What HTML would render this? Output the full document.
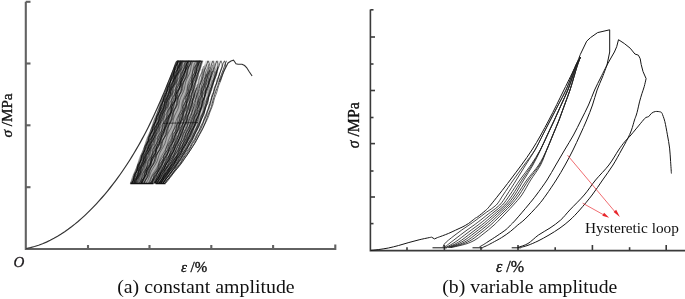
<!DOCTYPE html>
<html><head><meta charset="utf-8"><style>
html,body{margin:0;padding:0;background:#fff;}
body{width:685px;height:299px;overflow:hidden;position:relative;}
svg{position:absolute;left:0;top:0;will-change:transform;}
.t{font-family:"Liberation Serif",serif;fill:#111;}
.lb{stroke:#111;stroke-width:0.35px;}
</style></head><body>
<svg width="685" height="299" viewBox="0 0 685 299">
<path d="M25.8,1.8 V249 H335.3 V244.5" stroke="#626262" stroke-width="2.1" fill="none"/>
<path d="M25.8,1.8 H30.5" stroke="#626262" stroke-width="2.1" fill="none"/>
<path d="M25.8,63.5 H30.5" stroke="#626262" stroke-width="2.1" fill="none"/>
<path d="M25.8,125.3 H30.5" stroke="#626262" stroke-width="2.1" fill="none"/>
<path d="M25.8,187.2 H30.5" stroke="#626262" stroke-width="2.1" fill="none"/>
<path d="M88,249 V245" stroke="#626262" stroke-width="2.1" fill="none"/>
<path d="M149.5,249 V245" stroke="#626262" stroke-width="2.1" fill="none"/>
<path d="M211.3,249 V245" stroke="#626262" stroke-width="2.1" fill="none"/>
<path d="M273.1,249 V245" stroke="#626262" stroke-width="2.1" fill="none"/>
<path d="M26.18,248.52 L30.39,247.63 L34.52,246.52 L38.57,245.22 L42.53,243.74 L46.40,242.09 L50.21,240.28 L53.93,238.33 L57.58,236.25 L61.17,234.04 L64.68,231.72 L68.13,229.29 L71.51,226.77 L74.82,224.15 L78.08,221.45 L81.28,218.67 L84.41,215.83 L87.49,212.91 L90.52,209.94 L93.48,206.91 L96.40,203.83 L99.25,200.70 L102.06,197.52 L104.82,194.30 L107.52,191.04 L110.17,187.75 L112.78,184.42 L115.33,181.05 L117.84,177.65 L120.30,174.23 L122.71,170.77 L125.08,167.28 L127.40,163.76 L129.68,160.22 L131.91,156.65 L134.10,153.05 L136.24,149.42 L138.35,145.78 L140.41,142.10 L142.44,138.40 L144.42,134.68 L146.37,130.93 L148.28,127.16 L150.16,123.37 L152.00,119.55 L153.81,115.72 L155.59,111.87 L157.33,108.00 L159.06,104.11 L160.75,100.21 L162.42,96.31 L164.07,92.39 L165.70,88.47 L167.32,84.54 L168.92,80.62 L170.51,76.71 L172.09,72.80 L173.67,68.92 L175.24,65.05 L176.82,61.21" stroke="#333" stroke-width="1.2" fill="none"/>
<path d="M130.30,183.30 L132.61,177.18 L134.92,171.05 L137.23,164.93 L139.54,158.80 L141.85,152.68 L144.16,146.55 L146.47,140.43 L148.78,134.30 L151.09,128.18 L153.40,122.05 L155.71,115.92 L158.02,109.80 L160.33,103.67 L162.64,97.55 L164.95,91.42 L167.26,85.30 L169.57,79.17 L171.88,73.05 L174.19,66.92 L176.50,60.80 L203.50,60.80 L201.43,66.92 L199.59,73.05 L197.76,79.17 L195.92,85.30 L194.08,91.42 L192.37,97.55 L190.68,103.67 L188.98,109.80 L186.94,115.92 L184.89,122.05 L182.55,128.18 L180.13,134.30 L177.50,140.43 L174.71,146.55 L171.77,152.68 L168.59,158.80 L165.33,164.93 L161.78,171.05 L158.24,177.18 L154.66,183.30Z" fill="#777" fill-opacity="0.6"/>
<path d="M155.37,183.30 L159.05,177.18 L162.70,171.05 L166.36,164.93 L169.71,158.80 L172.99,152.68 L176.01,146.55 L178.88,140.43 L181.58,134.30 L184.06,128.18 L186.46,122.05 L188.56,115.92 L190.65,109.80 L192.38,103.67 L194.12,97.55 L195.87,91.42 L197.74,85.30 L199.62,79.17 L201.50,73.05 L203.38,66.92 L205.50,60.80 L220.70,60.80 L218.35,66.92 L216.33,73.05 L214.32,79.17 L212.30,85.30 L210.29,91.42 L208.45,97.55 L206.64,103.67 L204.83,109.80 L202.52,115.92 L200.19,122.05 L197.45,128.18 L194.59,134.30 L191.41,140.43 L188.02,146.55 L184.39,152.68 L180.42,158.80 L176.34,164.93 L171.84,171.05 L167.33,177.18 L162.79,183.30Z" fill="#999" fill-opacity="0.35"/>
<path d="M138.18,183.30 L139.99,180.24 L140.45,177.18 L141.62,174.11 L143.79,171.05 L145.09,167.99 L145.53,164.93 L146.92,161.86 L149.02,158.80 L150.04,155.74 L150.48,152.68 L152.09,149.61 L154.06,146.55 L154.80,143.49 L155.32,140.43 L157.10,137.36 L158.89,134.30 L159.40,131.24 L160.05,128.18 L161.95,125.11 L163.51,122.05 L163.85,118.99 L164.68,115.92 L166.64,112.86 L167.94,109.80 L168.17,106.74 L169.20,103.67 L171.15,100.61 L172.16,97.55 L172.39,94.49 L173.68,91.42 L175.61,88.36 L176.39,85.30 L176.71,82.24 L178.24,79.17 L180.06,76.11 L180.63,73.05 L181.09,69.99 L182.82,66.92 L184.47,63.86 L185.04,60.80" stroke="#000" stroke-opacity="0.58" stroke-width="0.6" fill="none"/>
<path d="M139.20,183.30 L141.02,180.24 L141.79,177.18 L142.68,174.11 L144.52,171.05 L146.33,167.99 L147.18,164.93 L147.94,161.86 L149.63,158.80 L151.48,155.74 L152.40,152.68 L153.05,149.61 L154.56,146.55 L156.43,143.49 L157.41,140.43 L157.97,137.36 L159.31,134.30 L161.17,131.24 L162.24,128.18 L162.72,125.11 L163.89,122.05 L165.71,118.99 L166.87,115.92 L167.30,112.86 L168.31,109.80 L170.06,106.74 L171.31,103.67 L171.73,100.61 L172.55,97.55 L174.26,94.49 L175.65,91.42 L176.14,88.36 L176.86,85.30 L178.51,82.24 L180.04,79.17 L180.60,76.11 L181.21,73.05 L182.78,69.99 L184.40,66.92 L185.07,63.86 L186.15,60.80" stroke="#000" stroke-opacity="0.53" stroke-width="0.6" fill="none"/>
<path d="M132.00,183.30 L133.20,180.24 L134.78,177.18 L135.85,174.11 L136.54,171.05 L137.43,167.99 L138.84,164.93 L140.51,161.86 L141.84,158.80 L142.65,155.74 L143.36,152.68 L144.52,149.61 L146.13,146.55 L147.67,143.49 L148.70,140.43 L149.37,137.36 L150.27,134.30 L151.70,131.24 L153.34,128.18 L154.63,125.11 L155.40,122.05 L156.11,118.99 L157.29,115.92 L158.90,112.86 L160.41,109.80 L161.39,106.74 L162.04,103.67 L162.95,100.61 L164.40,97.55 L166.02,94.49 L167.27,91.42 L168.01,88.36 L168.74,85.30 L169.94,82.24 L171.56,79.17 L173.04,76.11 L173.99,73.05 L174.64,69.99 L175.59,66.92 L177.06,63.86 L178.34,60.80" stroke="#000" stroke-opacity="0.55" stroke-width="0.6" fill="none"/>
<path d="M135.73,183.30 L136.27,180.24 L138.45,177.18 L140.23,174.11 L140.64,171.05 L141.19,167.99 L143.14,164.93 L145.19,161.86 L145.87,158.80 L146.16,155.74 L147.75,152.68 L149.96,149.61 L150.97,146.55 L151.13,143.49 L152.31,140.43 L154.52,137.36 L155.90,134.30 L156.08,131.24 L156.85,128.18 L158.93,125.11 L160.65,122.05 L160.98,118.99 L161.40,115.92 L163.21,112.86 L165.19,109.80 L165.79,106.74 L165.96,103.67 L167.41,100.61 L169.53,97.55 L170.50,94.49 L170.58,91.42 L171.65,88.36 L173.80,85.30 L175.17,82.24 L175.32,79.17 L176.01,76.11 L178.02,73.05 L179.75,69.99 L180.09,66.92 L180.47,63.86 L182.39,60.80" stroke="#000" stroke-opacity="0.81" stroke-width="0.6" fill="none"/>
<path d="M154.08,183.30 L155.94,180.24 L156.98,177.18 L158.75,174.11 L161.23,171.05 L163.51,167.99 L164.93,164.93 L165.78,161.86 L167.05,158.80 L169.18,155.74 L171.47,152.68 L172.99,149.61 L173.64,146.55 L174.44,143.49 L176.10,140.43 L178.26,137.36 L179.81,134.30 L180.46,131.24 L180.91,128.18 L182.07,125.11 L183.90,122.05 L185.51,118.99 L186.26,115.92 L186.48,112.86 L187.14,109.80 L188.50,106.74 L190.09,103.67 L191.00,100.61 L191.14,97.55 L191.38,94.49 L192.47,91.42 L194.17,88.36 L195.45,85.30 L195.87,82.24 L196.02,79.17 L196.83,76.11 L198.43,73.05 L199.97,69.99 L200.68,66.92 L200.81,63.86 L202.25,60.80" stroke="#000" stroke-opacity="0.52" stroke-width="0.6" fill="none"/>
<path d="M133.17,183.30 L134.57,180.24 L134.88,177.18 L136.72,174.11 L138.64,171.05 L139.01,167.99 L139.69,164.93 L141.83,161.86 L143.29,158.80 L143.45,155.74 L144.62,152.68 L146.83,149.61 L147.75,146.55 L147.96,143.49 L149.62,140.43 L151.63,137.36 L152.09,134.30 L152.59,131.24 L154.62,128.18 L156.22,125.11 L156.39,122.05 L157.35,118.99 L159.53,115.92 L160.61,112.86 L160.75,109.80 L162.21,106.74 L164.28,103.67 L164.86,100.61 L165.20,97.55 L167.11,94.49 L168.84,91.42 L169.07,88.36 L169.85,85.30 L172.00,82.24 L173.25,79.17 L173.35,76.11 L174.65,73.05 L176.79,69.99 L177.52,66.92 L177.77,63.86 L179.61,60.80" stroke="#000" stroke-opacity="0.65" stroke-width="0.6" fill="none"/>
<path d="M145.86,183.30 L147.89,180.24 L149.17,177.18 L150.13,174.11 L151.33,171.05 L153.09,167.99 L155.12,164.93 L156.82,161.86 L157.92,158.80 L158.77,155.74 L159.94,152.68 L161.64,149.61 L163.46,146.55 L164.93,143.49 L165.85,140.43 L166.61,137.36 L167.66,134.30 L169.23,131.24 L170.93,128.18 L172.22,125.11 L172.94,122.05 L173.51,118.99 L174.52,115.92 L176.04,112.86 L177.60,109.80 L178.61,106.74 L179.13,103.67 L179.64,100.61 L180.62,97.55 L182.08,94.49 L183.52,91.42 L184.49,88.36 L185.01,85.30 L185.60,82.24 L186.71,79.17 L188.24,76.11 L189.66,73.05 L190.55,69.99 L191.04,66.92 L191.69,63.86 L193.35,60.80" stroke="#000" stroke-opacity="0.69" stroke-width="0.6" fill="none"/>
<path d="M135.31,183.30 L136.32,180.24 L137.43,177.18 L139.35,174.11 L140.53,171.05 L141.10,167.99 L142.57,164.93 L144.40,161.86 L145.22,158.80 L145.93,155.74 L147.66,152.68 L149.24,149.61 L149.81,146.55 L150.79,143.49 L152.65,140.43 L153.87,137.36 L154.35,134.30 L155.67,131.24 L157.48,128.18 L158.32,125.11 L158.91,122.05 L160.52,118.99 L162.10,115.92 L162.66,112.86 L163.51,109.80 L165.29,106.74 L166.52,103.67 L166.95,100.61 L168.13,97.55 L169.92,94.49 L170.79,91.42 L171.32,88.36 L172.85,85.30 L174.47,82.24 L175.06,79.17 L175.83,76.11 L177.59,73.05 L178.91,69.99 L179.36,66.92 L180.47,63.86 L181.93,60.80" stroke="#000" stroke-opacity="0.84" stroke-width="0.6" fill="none"/>
<path d="M141.33,183.30 L142.33,180.24 L144.53,177.18 L146.09,174.11 L146.75,171.05 L147.55,167.99 L149.32,164.93 L151.45,161.86 L152.80,158.80 L153.34,155.74 L154.19,152.68 L156.00,149.61 L157.99,146.55 L159.12,143.49 L159.56,140.43 L160.46,137.36 L162.27,134.30 L164.12,131.24 L165.04,128.18 L165.40,125.11 L166.35,122.05 L168.16,118.99 L169.86,115.92 L170.58,112.86 L170.89,109.80 L171.88,106.74 L173.69,103.67 L175.21,100.61 L175.75,97.55 L176.04,94.49 L177.19,91.42 L179.06,88.36 L180.48,85.30 L180.93,82.24 L181.32,79.17 L182.63,76.11 L184.51,73.05 L185.79,69.99 L186.15,66.92 L186.63,63.86 L188.46,60.80" stroke="#000" stroke-opacity="0.65" stroke-width="0.6" fill="none"/>
<path d="M144.29,183.30 L145.49,180.24 L147.81,177.18 L149.18,174.11 L149.74,171.05 L150.88,167.99 L153.08,164.93 L155.14,161.86 L156.04,158.80 L156.54,155.74 L157.99,152.68 L160.23,149.61 L161.82,146.55 L162.33,143.49 L162.94,140.43 L164.67,137.36 L166.72,134.30 L167.83,131.24 L168.11,128.18 L168.96,125.11 L170.85,122.05 L172.60,118.99 L173.24,115.92 L173.47,112.86 L174.61,109.80 L176.51,106.74 L177.85,103.67 L178.11,100.61 L178.44,97.55 L179.89,94.49 L181.77,91.42 L182.74,88.36 L182.89,85.30 L183.59,82.24 L185.36,79.17 L187.07,76.11 L187.67,73.05 L187.84,69.99 L188.93,66.92 L190.85,63.86 L191.65,60.80" stroke="#000" stroke-opacity="0.76" stroke-width="0.6" fill="none"/>
<path d="M154.18,183.30 L155.78,180.24 L158.03,177.18 L159.84,174.11 L161.15,171.05 L162.49,167.99 L164.37,164.93 L166.51,161.86 L168.32,158.80 L169.57,155.74 L170.65,152.68 L172.12,149.61 L173.94,146.55 L175.70,143.49 L176.92,140.43 L177.79,137.36 L178.79,134.30 L180.30,131.24 L181.98,128.18 L183.21,125.11 L183.87,122.05 L184.51,118.99 L185.68,115.92 L187.20,112.86 L188.42,109.80 L188.92,106.74 L189.29,103.67 L190.11,100.61 L191.41,97.55 L192.62,94.49 L193.30,91.42 L193.70,88.36 L194.41,85.30 L195.67,82.24 L197.05,79.17 L197.96,76.11 L198.40,73.05 L198.96,69.99 L200.06,66.92 L201.47,63.86 L202.36,60.80" stroke="#000" stroke-opacity="0.56" stroke-width="0.6" fill="none"/>
<path d="M142.21,183.30 L143.73,180.24 L145.58,177.18 L146.15,174.11 L147.30,171.05 L149.58,167.99 L151.03,164.93 L151.49,161.86 L152.97,158.80 L155.16,155.74 L156.12,152.68 L156.66,149.61 L158.45,146.55 L160.34,143.49 L160.90,140.43 L161.66,137.36 L163.65,134.30 L165.13,131.24 L165.43,128.18 L166.51,125.11 L168.55,122.05 L169.54,118.99 L169.77,115.92 L171.19,112.86 L173.08,109.80 L173.61,106.74 L173.97,103.67 L175.66,100.61 L177.22,97.55 L177.47,94.49 L178.16,91.42 L180.09,88.36 L181.29,85.30 L181.45,82.24 L182.58,79.17 L184.52,76.11 L185.31,73.05 L185.55,69.99 L187.08,66.92 L188.85,63.86 L189.40,60.80" stroke="#000" stroke-opacity="0.52" stroke-width="0.6" fill="none"/>
<path d="M151.63,183.30 L152.84,180.24 L155.44,177.18 L156.99,174.11 L157.76,171.05 L159.76,167.99 L162.23,164.93 L163.27,161.86 L164.10,158.80 L166.32,155.74 L168.33,152.68 L168.98,149.61 L170.03,146.55 L172.28,143.49 L173.69,140.43 L174.11,137.36 L175.49,134.30 L177.56,131.24 L178.37,128.18 L178.77,125.11 L180.47,122.05 L182.15,118.99 L182.44,115.92 L183.02,112.86 L184.90,109.80 L186.03,106.74 L186.00,103.67 L186.87,100.61 L188.67,97.55 L189.35,94.49 L189.38,91.42 L190.75,88.36 L192.46,85.30 L192.78,82.24 L193.12,79.17 L194.83,76.11 L196.19,73.05 L196.26,69.99 L197.01,66.92 L198.88,63.86 L199.60,60.80" stroke="#000" stroke-opacity="0.66" stroke-width="0.6" fill="none"/>
<path d="M141.41,183.30 L142.02,180.24 L144.39,177.18 L146.22,174.11 L146.41,171.05 L147.87,167.99 L150.39,164.93 L151.14,161.86 L151.57,158.80 L153.87,155.74 L155.62,152.68 L155.73,149.61 L157.06,146.55 L159.45,143.49 L160.08,140.43 L160.45,137.36 L162.63,134.30 L164.23,131.24 L164.22,128.18 L165.50,125.11 L167.78,122.05 L168.27,118.99 L168.52,115.92 L170.63,112.86 L172.15,109.80 L172.00,106.74 L173.17,103.67 L175.35,100.61 L175.75,97.55 L175.95,94.49 L178.02,91.42 L179.48,88.36 L179.35,85.30 L180.56,82.24 L182.76,79.17 L183.18,76.11 L183.41,73.05 L185.51,69.99 L186.95,66.92 L186.83,63.86 L188.53,60.80" stroke="#000" stroke-opacity="0.92" stroke-width="0.6" fill="none"/>
<path d="M131.78,183.30 L133.50,180.24 L133.71,177.18 L135.08,174.11 L137.05,171.05 L137.38,167.99 L138.43,164.93 L140.55,161.86 L141.07,158.80 L141.82,155.74 L143.97,152.68 L144.76,149.61 L145.24,146.55 L147.33,143.49 L148.43,140.43 L148.72,137.36 L150.65,134.30 L152.06,131.24 L152.24,128.18 L153.93,125.11 L155.63,122.05 L155.81,118.99 L157.21,115.92 L159.14,112.86 L159.42,109.80 L160.49,106.74 L162.57,103.67 L163.04,100.61 L163.81,97.55 L165.94,94.49 L166.68,91.42 L167.18,88.36 L169.26,85.30 L170.31,82.24 L170.61,79.17 L172.55,76.11 L173.91,73.05 L174.10,69.99 L175.81,66.92 L177.47,63.86 L178.10,60.80" stroke="#000" stroke-opacity="0.85" stroke-width="0.6" fill="none"/>
<path d="M137.23,183.30 L139.10,180.24 L139.72,177.18 L140.47,174.11 L142.39,171.05 L144.22,167.99 L144.87,164.93 L145.55,161.86 L147.40,158.80 L149.24,155.74 L149.89,152.68 L150.51,149.61 L152.28,146.55 L154.12,143.49 L154.78,140.43 L155.33,137.36 L157.02,134.30 L158.86,131.24 L159.53,128.18 L160.01,125.11 L161.64,122.05 L163.47,118.99 L164.15,115.92 L164.56,112.86 L166.12,109.80 L167.95,106.74 L168.64,103.67 L168.99,100.61 L170.47,97.55 L172.32,94.49 L173.07,91.42 L173.41,88.36 L174.85,85.30 L176.74,82.24 L177.55,79.17 L177.87,76.11 L179.25,73.05 L181.16,69.99 L182.03,66.92 L182.33,63.86 L184.01,60.80" stroke="#000" stroke-opacity="0.69" stroke-width="0.6" fill="none"/>
<path d="M134.39,183.30 L135.54,180.24 L137.00,177.18 L138.26,174.11 L139.26,171.05 L140.26,167.99 L141.53,164.93 L142.99,161.86 L144.34,158.80 L145.42,155.74 L146.36,152.68 L147.48,149.61 L148.85,146.55 L150.26,143.49 L151.44,140.43 L152.39,137.36 L153.36,134.30 L154.61,131.24 L156.03,128.18 L157.31,125.11 L158.31,122.05 L159.21,118.99 L160.30,115.92 L161.66,112.86 L163.02,109.80 L164.11,106.74 L164.99,103.67 L165.96,100.61 L167.20,97.55 L168.58,94.49 L169.80,91.42 L170.75,88.36 L171.65,85.30 L172.77,82.24 L174.14,79.17 L175.47,76.11 L176.53,73.05 L177.41,69.99 L178.41,66.92 L179.69,63.86 L180.93,60.80" stroke="#000" stroke-opacity="0.56" stroke-width="0.6" fill="none"/>
<path d="M136.33,183.30 L138.23,180.24 L138.54,177.18 L139.44,174.11 L141.63,171.05 L143.30,167.99 L143.65,164.93 L144.42,161.86 L146.53,158.80 L148.28,155.74 L148.67,152.68 L149.31,149.61 L151.31,146.55 L153.13,143.49 L153.56,140.43 L154.08,137.36 L155.97,134.30 L157.86,131.24 L158.35,128.18 L158.75,125.11 L160.53,122.05 L162.47,118.99 L163.04,115.92 L163.33,112.86 L164.98,109.80 L166.97,106.74 L167.61,103.67 L167.81,100.61 L169.32,97.55 L171.36,94.49 L172.12,91.42 L172.29,88.36 L173.69,85.30 L175.79,82.24 L176.68,79.17 L176.81,76.11 L178.09,73.05 L180.21,69.99 L181.22,66.92 L181.34,63.86 L183.03,60.80" stroke="#000" stroke-opacity="0.70" stroke-width="0.6" fill="none"/>
<path d="M143.68,183.30 L145.44,180.24 L147.24,177.18 L148.00,174.11 L148.77,171.05 L150.56,167.99 L152.84,164.93 L154.26,161.86 L154.79,158.80 L155.72,155.74 L157.70,152.68 L159.75,149.61 L160.72,146.55 L161.13,143.49 L162.28,140.43 L164.35,137.36 L166.02,134.30 L166.62,131.24 L167.05,128.18 L168.45,125.11 L170.44,122.05 L171.72,118.99 L172.04,115.92 L172.59,112.86 L174.20,109.80 L175.99,106.74 L176.85,103.67 L177.01,100.61 L177.77,97.55 L179.52,94.49 L181.14,91.42 L181.72,88.36 L181.96,85.30 L183.08,82.24 L184.97,79.17 L186.33,76.11 L186.68,73.05 L187.08,69.99 L188.51,66.92 L190.39,63.86 L190.99,60.80" stroke="#000" stroke-opacity="0.94" stroke-width="0.6" fill="none"/>
<path d="M140.41,183.30 L142.34,180.24 L143.76,177.18 L144.38,174.11 L145.12,171.05 L146.74,167.99 L148.91,164.93 L150.58,161.86 L151.32,158.80 L151.85,155.74 L153.11,152.68 L155.13,149.61 L156.96,146.55 L157.90,143.49 L158.32,140.43 L159.22,137.36 L160.96,134.30 L162.89,131.24 L164.08,128.18 L164.51,125.11 L165.07,122.05 L166.49,118.99 L168.42,115.92 L169.84,112.86 L170.38,109.80 L170.69,106.74 L171.75,103.67 L173.56,100.61 L175.18,97.55 L175.92,94.49 L176.17,91.42 L176.95,88.36 L178.62,85.30 L180.44,82.24 L181.50,79.17 L181.82,76.11 L182.34,73.05 L183.76,69.99 L185.65,66.92 L187.01,63.86 L187.46,60.80" stroke="#000" stroke-opacity="0.68" stroke-width="0.6" fill="none"/>
<path d="M134.59,183.30 L135.47,180.24 L137.09,177.18 L138.58,174.11 L139.33,171.05 L140.42,167.99 L142.15,164.93 L143.36,161.86 L144.05,158.80 L145.39,155.74 L147.07,152.68 L148.00,149.61 L148.78,146.55 L150.34,143.49 L151.82,140.43 L152.54,137.36 L153.54,134.30 L155.20,131.24 L156.40,128.18 L157.05,125.11 L158.31,122.05 L159.94,118.99 L160.85,115.92 L161.57,112.86 L163.06,109.80 L164.51,106.74 L165.20,103.67 L166.12,100.61 L167.73,97.55 L168.93,94.49 L169.55,91.42 L170.74,88.36 L172.37,85.30 L173.30,82.24 L174.00,79.17 L175.45,76.11 L176.93,73.05 L177.65,69.99 L178.54,66.92 L180.16,63.86 L181.15,60.80" stroke="#000" stroke-opacity="0.62" stroke-width="0.6" fill="none"/>
<path d="M136.69,183.30 L137.62,180.24 L138.97,177.18 L140.89,174.11 L141.93,171.05 L142.59,167.99 L144.22,164.93 L145.99,161.86 L146.75,158.80 L147.56,155.74 L149.36,152.68 L150.89,149.61 L151.46,146.55 L152.49,143.49 L154.35,140.43 L155.57,137.36 L156.08,134.30 L157.37,131.24 L159.18,128.18 L160.08,125.11 L160.64,122.05 L162.17,118.99 L163.80,115.92 L164.44,112.86 L165.18,109.80 L166.87,106.74 L168.23,103.67 L168.69,100.61 L169.67,97.55 L171.44,94.49 L172.53,91.42 L172.98,88.36 L174.26,85.30 L176.00,82.24 L176.82,79.17 L177.37,76.11 L178.91,73.05 L180.50,69.99 L181.08,66.92 L181.84,63.86 L183.43,60.80" stroke="#000" stroke-opacity="0.50" stroke-width="0.6" fill="none"/>
<path d="M153.52,183.30 L154.97,180.24 L157.47,177.18 L158.77,174.11 L159.93,171.05 L162.34,167.99 L164.30,164.93 L165.12,161.86 L166.82,158.80 L169.10,155.74 L170.15,152.68 L171.17,149.61 L173.27,146.55 L174.78,143.49 L175.34,140.43 L176.94,137.36 L178.85,134.30 L179.48,131.24 L180.25,128.18 L182.21,125.11 L183.38,122.05 L183.61,118.99 L184.95,115.92 L186.61,112.86 L186.99,109.80 L187.50,106.74 L189.14,103.67 L189.96,100.61 L190.04,97.55 L191.30,94.49 L192.75,91.42 L192.99,88.36 L193.65,85.30 L195.37,82.24 L196.16,79.17 L196.34,76.11 L197.74,73.05 L199.16,69.99 L199.36,66.92 L200.11,63.86 L201.64,60.80" stroke="#000" stroke-opacity="0.85" stroke-width="0.6" fill="none"/>
<path d="M131.61,183.30 L133.40,180.24 L133.97,177.18 L134.50,174.11 L136.75,171.05 L137.74,167.99 L137.97,164.93 L140.03,161.86 L141.47,158.80 L141.53,155.74 L143.26,152.68 L145.10,149.61 L145.19,146.55 L146.48,143.49 L148.62,140.43 L148.92,137.36 L149.75,134.30 L152.01,131.24 L152.66,128.18 L153.10,125.11 L155.31,122.05 L156.39,118.99 L156.54,115.92 L158.52,112.86 L160.05,109.80 L160.09,106.74 L161.70,103.67 L163.61,100.61 L163.73,97.55 L164.90,94.49 L167.07,91.42 L167.43,88.36 L168.15,85.30 L170.41,82.24 L171.15,79.17 L171.51,76.11 L173.67,73.05 L174.86,69.99 L174.97,66.92 L176.87,63.86 L177.92,60.80" stroke="#000" stroke-opacity="0.95" stroke-width="0.6" fill="none"/>
<path d="M139.85,183.30 L140.95,180.24 L142.50,177.18 L144.09,174.11 L145.45,171.05 L146.57,167.99 L147.67,164.93 L148.97,161.86 L150.49,158.80 L152.00,155.74 L153.27,152.68 L154.30,149.61 L155.31,146.55 L156.57,143.49 L158.05,140.43 L159.48,137.36 L160.60,134.30 L161.51,131.24 L162.50,128.18 L163.75,125.11 L165.16,122.05 L166.45,118.99 L167.47,115.92 L168.32,112.86 L169.28,109.80 L170.46,106.74 L171.79,103.67 L172.99,100.61 L173.92,97.55 L174.71,94.49 L175.67,91.42 L176.91,88.36 L178.26,85.30 L179.44,82.24 L180.35,79.17 L181.18,76.11 L182.19,73.05 L183.46,69.99 L184.81,66.92 L185.94,63.86 L186.85,60.80" stroke="#000" stroke-opacity="0.70" stroke-width="0.6" fill="none"/>
<path d="M131.94,183.30 L133.10,180.24 L134.02,177.18 L135.22,174.11 L136.67,171.05 L138.09,167.99 L139.22,164.93 L140.12,161.86 L141.05,158.80 L142.27,155.74 L143.73,152.68 L145.12,149.61 L146.22,146.55 L147.09,143.49 L148.04,140.43 L149.29,137.36 L150.74,134.30 L152.10,131.24 L153.16,128.18 L154.03,125.11 L154.99,122.05 L156.25,118.99 L157.70,115.92 L159.03,112.86 L160.07,109.80 L160.91,106.74 L161.89,103.67 L163.17,100.61 L164.62,97.55 L165.93,94.49 L166.93,91.42 L167.77,88.36 L168.78,85.30 L170.09,82.24 L171.54,79.17 L172.82,76.11 L173.80,73.05 L174.65,69.99 L175.68,66.92 L177.01,63.86 L178.28,60.80" stroke="#000" stroke-opacity="0.60" stroke-width="0.6" fill="none"/>
<path d="M130.31,183.30 L131.42,180.24 L132.37,177.18 L133.57,174.11 L134.96,171.05 L136.32,167.99 L137.45,164.93 L138.37,161.86 L139.31,158.80 L140.48,155.74 L141.86,152.68 L143.24,149.61 L144.39,146.55 L145.33,143.49 L146.26,140.43 L147.40,137.36 L148.77,134.30 L150.15,131.24 L151.33,128.18 L152.28,125.11 L153.20,122.05 L154.32,118.99 L155.67,115.92 L157.07,112.86 L158.27,109.80 L159.24,106.74 L160.15,103.67 L161.24,100.61 L162.58,97.55 L163.98,94.49 L165.21,91.42 L166.19,88.36 L167.10,85.30 L168.16,82.24 L169.48,79.17 L170.89,76.11 L172.15,73.05 L173.15,69.99 L174.05,66.92 L175.09,63.86 L176.51,60.80" stroke="#000" stroke-opacity="0.58" stroke-width="0.6" fill="none"/>
<path d="M151.60,183.30 L153.31,180.24 L154.67,177.18 L156.49,174.11 L158.51,171.05 L160.14,167.99 L161.42,164.93 L162.92,161.86 L164.79,158.80 L166.48,155.74 L167.69,152.68 L168.89,149.61 L170.45,146.55 L172.13,143.49 L173.37,140.43 L174.34,137.36 L175.55,134.30 L177.11,131.24 L178.42,128.18 L179.27,125.11 L180.17,122.05 L181.47,118.99 L182.81,115.92 L183.67,112.86 L184.34,109.80 L185.29,106.74 L186.55,103.67 L187.49,100.61 L188.02,97.55 L188.74,94.49 L189.95,91.42 L191.15,88.36 L191.87,85.30 L192.48,82.24 L193.56,79.17 L194.87,76.11 L195.80,73.05 L196.37,69.99 L197.22,66.92 L198.51,63.86 L199.56,60.80" stroke="#000" stroke-opacity="0.81" stroke-width="0.6" fill="none"/>
<path d="M139.16,183.30 L141.20,180.24 L141.87,177.18 L142.43,174.11 L144.40,171.05 L146.49,167.99 L147.19,164.93 L147.70,161.86 L149.57,158.80 L151.65,155.74 L152.33,152.68 L152.78,149.61 L154.57,146.55 L156.62,143.49 L157.29,140.43 L157.67,137.36 L159.38,134.30 L161.40,131.24 L162.06,128.18 L162.37,125.11 L164.00,122.05 L166.00,118.99 L166.65,115.92 L166.89,112.86 L168.45,109.80 L170.42,106.74 L171.07,103.67 L171.23,100.61 L172.71,97.55 L174.70,94.49 L175.40,91.42 L175.56,88.36 L177.02,85.30 L179.04,82.24 L179.79,79.17 L179.95,76.11 L181.36,73.05 L183.40,69.99 L184.19,66.92 L184.33,63.86 L186.11,60.80" stroke="#000" stroke-opacity="0.56" stroke-width="0.6" fill="none"/>
<path d="M142.08,183.30 L143.40,180.24 L144.62,177.18 L146.23,174.11 L147.91,171.05 L149.23,167.99 L150.30,164.93 L151.57,161.86 L153.17,158.80 L154.72,155.74 L155.88,152.68 L156.88,149.61 L158.13,146.55 L159.69,143.49 L161.09,140.43 L162.10,137.36 L163.02,134.30 L164.30,131.24 L165.79,128.18 L167.02,125.11 L167.87,122.05 L168.77,118.99 L170.07,115.92 L171.47,112.86 L172.53,109.80 L173.24,106.74 L174.16,103.67 L175.45,100.61 L176.74,97.55 L177.63,94.49 L178.36,91.42 L179.40,88.36 L180.77,85.30 L182.00,82.24 L182.85,79.17 L183.63,76.11 L184.76,73.05 L186.14,69.99 L187.29,66.92 L188.07,63.86 L189.26,60.80" stroke="#000" stroke-opacity="0.54" stroke-width="0.6" fill="none"/>
<path d="M150.49,183.30 L152.34,180.24 L153.81,177.18 L155.19,174.11 L157.02,171.05 L158.87,167.99 L160.28,164.93 L161.63,161.86 L163.37,158.80 L165.02,155.74 L166.23,152.68 L167.55,149.61 L169.18,146.55 L170.60,143.49 L171.63,140.43 L172.91,137.36 L174.43,134.30 L175.63,131.24 L176.51,128.18 L177.72,125.11 L179.15,122.05 L180.14,118.99 L180.88,115.92 L182.02,112.86 L183.34,109.80 L184.11,106.74 L184.75,103.67 L185.82,100.61 L186.98,97.55 L187.68,94.49 L188.37,91.42 L189.56,88.36 L190.72,85.30 L191.42,82.24 L192.22,79.17 L193.45,76.11 L194.54,73.05 L195.21,69.99 L196.08,66.92 L197.34,63.86 L198.37,60.80" stroke="#000" stroke-opacity="0.58" stroke-width="0.6" fill="none"/>
<path d="M133.87,183.30 L134.92,180.24 L136.50,177.18 L137.41,174.11 L138.59,171.05 L140.13,167.99 L140.99,164.93 L142.25,161.86 L143.72,158.80 L144.53,155.74 L145.88,152.68 L147.27,149.61 L148.07,146.55 L149.47,143.49 L150.77,140.43 L151.58,137.36 L153.04,134.30 L154.23,131.24 L155.06,128.18 L156.57,125.11 L157.66,122.05 L158.53,118.99 L160.06,115.92 L161.05,112.86 L161.99,109.80 L163.51,106.74 L164.41,103.67 L165.42,100.61 L166.92,97.55 L167.76,94.49 L168.86,91.42 L170.33,88.36 L171.12,85.30 L172.31,82.24 L173.73,79.17 L174.49,76.11 L175.78,73.05 L177.12,69.99 L177.88,66.92 L179.24,63.86 L180.37,60.80" stroke="#000" stroke-opacity="0.77" stroke-width="0.6" fill="none"/>
<path d="M151.33,183.30 L152.87,180.24 L154.31,177.18 L156.19,174.11 L158.23,171.05 L159.95,167.99 L161.25,164.93 L162.51,161.86 L164.14,158.80 L166.04,155.74 L167.71,152.68 L168.91,149.61 L169.87,146.55 L171.23,143.49 L172.95,140.43 L174.55,137.36 L175.58,134.30 L176.37,131.24 L177.46,128.18 L178.97,125.11 L180.43,122.05 L181.38,118.99 L182.02,115.92 L182.86,112.86 L184.13,109.80 L185.41,106.74 L186.33,103.67 L186.86,100.61 L187.45,97.55 L188.50,94.49 L189.80,91.42 L190.89,88.36 L191.54,85.30 L192.13,82.24 L193.12,79.17 L194.46,76.11 L195.64,73.05 L196.38,69.99 L196.93,66.92 L197.81,63.86 L199.27,60.80" stroke="#000" stroke-opacity="0.85" stroke-width="0.6" fill="none"/>
<path d="M149.10,183.30 L150.57,180.24 L151.64,177.18 L153.62,174.11 L155.98,171.05 L157.63,167.99 L158.49,164.93 L159.50,161.86 L161.39,158.80 L163.61,155.74 L165.09,152.68 L165.77,149.61 L166.62,146.55 L168.41,143.49 L170.47,140.43 L171.76,137.36 L172.21,134.30 L172.97,131.24 L174.66,128.18 L176.57,125.11 L177.63,122.05 L177.92,118.99 L178.58,115.92 L180.17,112.86 L181.93,109.80 L182.75,106.74 L182.89,103.67 L183.47,100.61 L184.96,97.55 L186.58,94.49 L187.37,91.42 L187.56,88.36 L188.22,85.30 L189.80,82.24 L191.45,79.17 L192.23,76.11 L192.42,73.05 L193.12,69.99 L194.72,66.92 L196.35,63.86 L196.86,60.80" stroke="#000" stroke-opacity="0.77" stroke-width="0.6" fill="none"/>
<path d="M150.07,183.30 L152.18,180.24 L153.60,177.18 L154.23,174.11 L156.85,171.05 L158.65,167.99 L159.12,164.93 L161.39,161.86 L163.43,158.80 L163.72,155.74 L165.58,152.68 L167.91,149.61 L168.15,146.55 L169.47,143.49 L171.89,140.43 L172.35,137.36 L173.16,134.30 L175.54,131.24 L176.18,128.18 L176.61,125.11 L178.88,122.05 L179.77,118.99 L179.80,115.92 L181.82,112.86 L183.09,109.80 L182.84,106.74 L184.45,103.67 L185.97,100.61 L185.70,97.55 L186.95,94.49 L188.79,91.42 L188.68,88.36 L189.59,85.30 L191.67,82.24 L191.80,79.17 L192.32,76.11 L194.47,73.05 L194.93,69.99 L195.11,66.92 L197.21,63.86 L197.91,60.80" stroke="#000" stroke-opacity="0.99" stroke-width="0.6" fill="none"/>
<path d="M148.32,183.30 L149.83,180.24 L151.00,177.18 L152.62,174.11 L154.65,171.05 L156.63,167.99 L158.16,164.93 L159.20,161.86 L160.22,158.80 L161.68,155.74 L163.56,152.68 L165.41,149.61 L166.73,146.55 L167.60,143.49 L168.46,140.43 L169.75,137.36 L171.38,134.30 L173.02,131.24 L174.24,128.18 L175.02,125.11 L175.68,122.05 L176.69,118.99 L178.15,115.92 L179.68,112.86 L180.81,109.80 L181.36,106.74 L181.82,103.67 L182.67,100.61 L183.98,97.55 L185.41,94.49 L186.47,91.42 L187.10,88.36 L187.60,85.30 L188.45,82.24 L189.79,79.17 L191.27,76.11 L192.41,73.05 L193.06,69.99 L193.55,66.92 L194.37,63.86 L196.02,60.80" stroke="#000" stroke-opacity="0.61" stroke-width="0.6" fill="none"/>
<path d="M130.98,183.30 L132.22,180.24 L133.55,177.18 L134.12,174.11 L135.76,171.05 L136.99,167.99 L137.59,164.93 L139.29,161.86 L140.43,158.80 L141.08,155.74 L142.82,152.68 L143.85,149.61 L144.57,146.55 L146.33,143.49 L147.27,140.43 L148.06,137.36 L149.84,134.30 L150.69,131.24 L151.56,128.18 L153.34,125.11 L154.10,122.05 L155.06,118.99 L156.82,115.92 L157.51,112.86 L158.57,109.80 L160.29,106.74 L160.92,103.67 L162.07,100.61 L163.75,97.55 L164.33,94.49 L165.58,91.42 L167.20,88.36 L167.75,85.30 L169.10,82.24 L170.64,79.17 L171.17,76.11 L172.62,73.05 L174.07,69.99 L174.60,66.92 L176.13,63.86 L177.24,60.80" stroke="#000" stroke-opacity="0.64" stroke-width="0.6" fill="none"/>
<path d="M141.19,183.30 L143.29,180.24 L144.36,177.18 L144.70,174.11 L146.11,171.05 L148.52,167.99 L150.13,164.93 L150.49,161.86 L151.30,158.80 L153.45,155.74 L155.48,152.68 L156.12,149.61 L156.46,146.55 L158.11,143.49 L160.36,140.43 L161.45,137.36 L161.59,134.30 L162.63,131.24 L164.82,128.18 L166.39,125.11 L166.63,122.05 L167.10,118.99 L168.94,115.92 L170.89,112.86 L171.48,109.80 L171.56,106.74 L172.86,103.67 L174.94,100.61 L176.01,97.55 L176.03,94.49 L176.78,91.42 L178.81,88.36 L180.43,85.30 L180.69,82.24 L181.00,79.17 L182.67,76.11 L184.67,73.05 L185.38,69.99 L185.43,66.92 L186.59,63.86 L188.30,60.80" stroke="#000" stroke-opacity="0.97" stroke-width="0.6" fill="none"/>
<path d="M135.66,183.30 L136.95,180.24 L137.84,177.18 L139.48,174.11 L140.93,171.05 L141.71,167.99 L142.91,164.93 L144.62,161.86 L145.71,158.80 L146.49,155.74 L147.99,152.68 L149.54,149.61 L150.33,146.55 L151.32,143.49 L152.99,140.43 L154.21,137.36 L154.89,134.30 L156.20,131.24 L157.80,128.18 L158.67,125.11 L159.49,122.05 L161.04,118.99 L162.36,115.92 L163.02,112.86 L164.15,109.80 L165.74,106.74 L166.70,103.67 L167.39,100.61 L168.81,97.55 L170.24,94.49 L170.94,91.42 L171.89,88.36 L173.50,85.30 L174.62,82.24 L175.26,79.17 L176.56,76.11 L178.10,73.05 L178.91,69.99 L179.72,66.92 L181.28,63.86 L182.32,60.80" stroke="#000" stroke-opacity="0.61" stroke-width="0.6" fill="none"/>
<path d="M152.23,183.30 L153.82,180.24 L156.10,177.18 L157.05,174.11 L158.70,171.05 L161.14,167.99 L162.28,164.93 L163.52,161.86 L165.86,158.80 L167.11,155.74 L168.03,152.68 L170.24,149.61 L171.65,146.55 L172.23,143.49 L174.11,140.43 L175.83,137.36 L176.24,134.30 L177.67,131.24 L179.48,128.18 L179.96,125.11 L181.00,122.05 L182.80,118.99 L183.33,115.92 L183.97,112.86 L185.79,109.80 L186.45,106.74 L186.68,103.67 L188.26,100.61 L189.24,97.55 L189.33,94.49 L190.71,91.42 L192.06,88.36 L192.20,85.30 L193.33,82.24 L194.92,79.17 L195.16,76.11 L195.97,73.05 L197.69,69.99 L198.16,66.92 L198.66,63.86 L200.25,60.80" stroke="#000" stroke-opacity="0.92" stroke-width="0.6" fill="none"/>
<path d="M132.36,183.30 L133.92,180.24 L135.21,177.18 L135.22,174.11 L137.05,171.05 L138.99,167.99 L139.03,164.93 L140.19,161.86 L142.52,158.80 L142.96,155.74 L143.45,152.68 L145.80,149.61 L146.89,146.55 L146.93,143.49 L148.90,140.43 L150.67,137.36 L150.64,134.30 L151.96,131.24 L154.21,128.18 L154.50,125.11 L155.13,122.05 L157.49,118.99 L158.38,115.92 L158.50,112.86 L160.58,109.80 L162.16,106.74 L162.09,103.67 L163.58,100.61 L165.71,97.55 L165.87,94.49 L166.67,91.42 L169.03,88.36 L169.74,85.30 L169.95,82.24 L172.14,79.17 L173.55,76.11 L173.49,73.05 L175.15,69.99 L177.17,66.92 L177.24,63.86 L178.74,60.80" stroke="#000" stroke-opacity="0.83" stroke-width="0.6" fill="none"/>
<path d="M141.94,183.30 L142.80,180.24 L144.55,177.18 L146.79,174.11 L147.19,171.05 L148.48,167.99 L150.94,164.93 L151.57,161.86 L152.38,158.80 L154.81,155.74 L155.80,152.68 L156.24,149.61 L158.47,146.55 L159.83,143.49 L160.01,140.43 L161.95,137.36 L163.68,134.30 L163.74,131.24 L165.22,128.18 L167.28,125.11 L167.45,122.05 L168.41,118.99 L170.60,115.92 L171.02,112.86 L171.56,109.80 L173.70,106.74 L174.46,103.67 L174.60,100.61 L176.60,97.55 L177.80,94.49 L177.75,91.42 L179.48,88.36 L181.13,85.30 L181.08,82.24 L182.41,79.17 L184.38,76.11 L184.49,73.05 L185.37,69.99 L187.52,66.92 L187.94,63.86 L189.11,60.80" stroke="#000" stroke-opacity="0.59" stroke-width="0.6" fill="none"/>
<path d="M153.97,183.30 L156.16,180.24 L157.36,177.18 L158.83,174.11 L161.28,171.05 L162.86,167.99 L163.98,164.93 L166.13,161.86 L168.00,158.80 L168.86,155.74 L170.52,152.68 L172.69,149.61 L173.57,146.55 L174.59,143.49 L176.65,140.43 L177.97,137.36 L178.53,134.30 L180.16,131.24 L181.76,128.18 L182.27,125.11 L183.38,122.05 L185.08,118.99 L185.70,115.92 L186.27,112.86 L187.93,109.80 L188.83,106.74 L188.99,103.67 L190.18,100.61 L191.51,97.55 L191.72,94.49 L192.47,91.42 L194.09,88.36 L194.69,85.30 L195.08,82.24 L196.61,79.17 L197.68,76.11 L197.89,73.05 L199.05,69.99 L200.52,66.92 L200.85,63.86 L202.13,60.80" stroke="#000" stroke-opacity="0.70" stroke-width="0.6" fill="none"/>
<path d="M134.44,183.30 L135.94,180.24 L136.82,177.18 L137.85,174.11 L139.56,171.05 L140.59,167.99 L141.47,164.93 L143.13,161.86 L144.32,158.80 L145.08,155.74 L146.63,152.68 L148.00,149.61 L148.69,146.55 L150.08,143.49 L151.58,140.43 L152.31,137.36 L153.50,134.30 L155.10,131.24 L155.90,128.18 L156.91,125.11 L158.54,122.05 L159.47,118.99 L160.30,115.92 L161.91,112.86 L163.01,109.80 L163.70,106.74 L165.20,103.67 L166.47,100.61 L167.11,97.55 L168.47,94.49 L169.90,91.42 L170.57,88.36 L171.76,85.30 L173.32,82.24 L174.07,79.17 L175.08,76.11 L176.69,73.05 L177.58,69.99 L178.42,66.92 L180.02,63.86 L180.98,60.80" stroke="#000" stroke-opacity="0.56" stroke-width="0.6" fill="none"/>
<path d="M133.86,183.30 L134.54,180.24 L136.77,177.18 L138.16,174.11 L138.39,171.05 L139.13,167.99 L141.17,164.93 L143.09,161.86 L143.67,158.80 L143.95,155.74 L145.49,152.68 L147.69,149.61 L148.82,146.55 L148.98,143.49 L149.89,140.43 L152.01,137.36 L153.72,134.30 L154.10,131.24 L154.49,128.18 L156.20,125.11 L158.29,122.05 L159.17,118.99 L159.30,115.92 L160.41,112.86 L162.56,109.80 L164.03,106.74 L164.26,103.67 L164.78,100.61 L166.63,97.55 L168.59,94.49 L169.25,91.42 L169.42,88.36 L170.74,85.30 L172.90,82.24 L174.17,79.17 L174.31,76.11 L175.03,73.05 L177.03,69.99 L178.85,66.92 L179.33,63.86 L180.36,60.80" stroke="#000" stroke-opacity="0.91" stroke-width="0.6" fill="none"/>
<path d="M143.66,183.30 L145.31,180.24 L146.50,177.18 L147.79,174.11 L149.54,171.05 L150.99,167.99 L152.11,164.93 L153.62,161.86 L155.24,158.80 L156.36,155.74 L157.54,152.68 L159.17,149.61 L160.48,146.55 L161.42,143.49 L162.77,140.43 L164.32,137.36 L165.30,134.30 L166.28,131.24 L167.75,128.18 L169.01,125.11 L169.82,122.05 L170.97,118.99 L172.36,115.92 L173.28,112.86 L174.14,109.80 L175.42,106.74 L176.55,103.67 L177.24,100.61 L178.27,97.55 L179.60,94.49 L180.47,91.42 L181.26,88.36 L182.56,85.30 L183.75,82.24 L184.48,79.17 L185.51,76.11 L186.87,73.05 L187.80,69.99 L188.57,66.92 L189.84,63.86 L190.97,60.80" stroke="#000" stroke-opacity="0.57" stroke-width="0.6" fill="none"/>
<path d="M156.59,183.30 L158.68,180.24 L160.51,177.18 L162.14,174.11 L164.08,171.05 L166.25,167.99 L168.12,164.93 L169.63,161.86 L171.32,158.80 L173.29,155.74 L175.01,152.68 L176.39,149.61 L177.80,146.55 L179.54,143.49 L181.10,140.43 L182.32,137.36 L183.52,134.30 L185.04,131.24 L186.45,128.18 L187.48,125.11 L188.51,122.05 L189.79,118.99 L191.05,115.92 L191.92,112.86 L192.77,109.80 L193.82,106.74 L194.92,103.67 L195.63,100.61 L196.27,97.55 L197.28,94.49 L198.42,91.42 L199.26,88.36 L199.95,85.30 L200.99,82.24 L202.20,79.17 L203.10,76.11 L203.78,73.05 L204.76,69.99 L205.98,66.92 L206.93,63.86 L208.00,60.80" stroke="#000" stroke-opacity="0.86" stroke-width="0.75" fill="none"/>
<path d="M156.59,183.30 L158.84,180.24 L160.72,177.18 L162.59,174.11 L164.96,171.05 L166.90,167.99 L168.68,164.93 L170.90,161.86 L172.73,158.80 L174.24,155.74 L176.30,152.68 L178.17,149.61 L179.43,146.55 L181.18,143.49 L182.96,140.43 L184.21,137.36 L185.68,134.30 L187.32,131.24 L188.39,128.18 L189.72,125.11 L191.30,122.05 L192.22,118.99 L193.23,115.92 L194.71,112.86 L195.69,109.80 L196.40,106.74 L197.66,103.67 L198.54,100.61 L199.18,97.55 L200.37,94.49 L201.37,91.42 L202.03,88.36 L203.22,85.30 L204.36,82.24 L205.00,79.17 L206.09,76.11 L207.30,73.05 L207.95,69.99 L208.93,66.92 L209.43,63.86 L208.00,60.80" stroke="#000" stroke-opacity="0.77" stroke-width="0.7" fill="none"/>
<path d="M159.03,183.30 L161.12,180.24 L162.95,177.18 L165.05,174.11 L167.33,171.05 L169.41,167.99 L171.21,164.93 L172.97,161.86 L174.94,158.80 L176.97,155.74 L178.70,152.68 L180.21,149.61 L181.74,146.55 L183.53,143.49 L185.23,140.43 L186.62,137.36 L187.78,134.30 L189.20,131.24 L190.78,128.18 L192.15,125.11 L193.14,122.05 L194.12,118.99 L195.40,115.92 L196.72,112.86 L197.73,109.80 L198.37,106.74 L199.23,103.67 L200.36,100.61 L201.37,97.55 L202.07,94.49 L202.78,91.42 L203.85,88.36 L205.07,85.30 L206.05,82.24 L206.78,79.17 L207.64,76.11 L208.80,73.05 L209.98,69.99 L210.85,66.92 L211.58,63.86 L213.00,60.80" stroke="#000" stroke-opacity="0.79" stroke-width="0.75" fill="none"/>
<path d="M159.03,183.30 L161.22,180.24 L163.25,177.18 L165.69,174.11 L167.99,171.05 L169.87,167.99 L172.01,164.93 L174.35,161.86 L176.24,158.80 L177.88,155.74 L179.93,152.68 L182.06,149.61 L183.55,146.55 L185.02,143.49 L186.93,140.43 L188.73,137.36 L189.93,134.30 L191.29,131.24 L193.01,128.18 L194.42,125.11 L195.44,122.05 L196.72,118.99 L198.17,115.92 L199.18,112.86 L200.11,109.80 L201.29,106.74 L202.40,103.67 L203.07,100.61 L203.91,97.55 L205.14,94.49 L206.11,91.42 L206.82,88.36 L207.89,85.30 L209.18,82.24 L210.04,79.17 L210.79,76.11 L211.98,73.05 L213.16,69.99 L213.89,66.92 L214.00,63.86 L213.00,60.80" stroke="#000" stroke-opacity="0.71" stroke-width="0.7" fill="none"/>
<path d="M160.98,183.30 L163.03,180.24 L165.12,177.18 L167.42,174.11 L169.77,171.05 L171.92,167.99 L173.87,164.93 L175.71,161.86 L177.67,158.80 L179.79,155.74 L181.80,152.68 L183.51,149.61 L184.93,146.55 L186.52,143.49 L188.33,140.43 L190.15,137.36 L191.55,134.30 L192.72,131.24 L193.97,128.18 L195.45,125.11 L196.95,122.05 L198.16,118.99 L199.14,115.92 L200.07,112.86 L201.19,109.80 L202.29,106.74 L203.35,103.67 L204.18,100.61 L204.86,97.55 L205.65,94.49 L206.70,91.42 L207.90,88.36 L208.93,85.30 L209.74,82.24 L210.55,79.17 L211.57,76.11 L212.77,73.05 L213.90,69.99 L214.79,66.92 L215.57,63.86 L217.00,60.80" stroke="#000" stroke-opacity="0.80" stroke-width="0.75" fill="none"/>
<path d="M160.98,183.30 L163.46,180.24 L165.77,177.18 L167.81,174.11 L170.03,171.05 L172.55,167.99 L174.98,164.93 L176.93,161.86 L178.75,158.80 L180.91,155.74 L183.17,152.68 L185.07,149.61 L186.56,146.55 L188.29,143.49 L190.29,140.43 L192.11,137.36 L193.40,134.30 L194.73,131.24 L196.39,128.18 L198.07,125.11 L199.30,122.05 L200.27,118.99 L201.53,115.92 L203.00,112.86 L204.21,109.80 L204.91,106.74 L205.77,103.67 L206.95,100.61 L208.06,97.55 L208.82,94.49 L209.57,91.42 L210.72,88.36 L211.99,85.30 L212.97,82.24 L213.72,79.17 L214.71,76.11 L215.97,73.05 L217.08,69.99 L217.86,66.92 L217.94,63.86 L217.00,60.80" stroke="#000" stroke-opacity="0.72" stroke-width="0.7" fill="none"/>
<path d="M162.93,183.30 L165.11,180.24 L167.69,177.18 L169.66,174.11 L171.91,171.05 L174.47,167.99 L176.44,164.93 L178.53,161.86 L180.83,158.80 L182.54,155.74 L184.50,152.68 L186.75,149.61 L188.17,146.55 L189.83,143.49 L191.85,140.43 L193.28,137.36 L194.71,134.30 L196.47,131.24 L197.64,128.18 L199.01,125.11 L200.65,122.05 L201.56,118.99 L202.66,115.92 L204.15,112.86 L205.05,109.80 L205.87,106.74 L207.11,103.67 L207.77,100.61 L208.59,97.55 L209.83,94.49 L210.52,91.42 L211.43,88.36 L212.78,85.30 L213.55,82.24 L214.45,79.17 L215.80,76.11 L216.58,73.05 L217.47,69.99 L218.82,66.92 L219.61,63.86 L221.00,60.80" stroke="#000" stroke-opacity="0.84" stroke-width="0.75" fill="none"/>
<path d="M162.93,183.30 L165.17,180.24 L167.91,177.18 L170.31,174.11 L172.42,171.05 L175.13,167.99 L177.51,164.93 L179.46,161.86 L181.89,158.80 L183.98,155.74 L185.81,152.68 L188.18,149.61 L189.96,146.55 L191.49,143.49 L193.62,140.43 L195.38,137.36 L196.69,134.30 L198.54,131.24 L200.01,128.18 L201.26,125.11 L202.98,122.05 L204.17,118.99 L205.14,115.92 L206.71,112.86 L207.86,109.80 L208.57,106.74 L209.86,103.67 L210.75,100.61 L211.45,97.55 L212.73,94.49 L213.63,91.42 L214.42,88.36 L215.80,85.30 L216.75,82.24 L217.54,79.17 L218.90,76.11 L219.84,73.05 L220.62,69.99 L221.97,66.92 L222.14,63.86 L221.00,60.80" stroke="#000" stroke-opacity="0.76" stroke-width="0.7" fill="none"/>
<path d="M164.64,183.30 L166.83,180.24 L169.47,177.18 L171.95,174.11 L174.04,171.05 L176.31,167.99 L178.95,164.93 L181.21,161.86 L182.99,158.80 L185.03,155.74 L187.40,152.68 L189.41,149.61 L190.88,146.55 L192.68,143.49 L194.73,140.43 L196.43,137.36 L197.68,134.30 L199.26,131.24 L201.00,128.18 L202.35,125.11 L203.45,122.05 L204.80,118.99 L206.23,115.92 L207.23,112.86 L208.19,109.80 L209.32,106.74 L210.42,103.67 L211.10,100.61 L211.85,97.55 L213.02,94.49 L214.09,91.42 L214.84,88.36 L215.77,85.30 L217.07,82.24 L218.16,79.17 L218.89,76.11 L219.88,73.05 L221.20,69.99 L222.22,66.92 L222.95,63.86 L224.50,60.80" stroke="#000" stroke-opacity="0.85" stroke-width="0.75" fill="none"/>
<path d="M164.64,183.30 L167.38,180.24 L169.71,177.18 L172.03,174.11 L174.72,171.05 L177.43,167.99 L179.76,164.93 L181.87,161.86 L184.22,158.80 L186.66,155.74 L188.72,152.68 L190.60,149.61 L192.59,146.55 L194.72,143.49 L196.51,140.43 L198.11,137.36 L199.80,134.30 L201.64,131.24 L203.17,128.18 L204.46,125.11 L205.91,122.05 L207.46,118.99 L208.72,115.92 L209.71,112.86 L210.92,109.80 L212.17,106.74 L213.19,103.67 L213.89,100.61 L214.78,97.55 L216.00,94.49 L217.08,91.42 L217.89,88.36 L218.83,85.30 L220.13,82.24 L221.31,79.17 L222.12,76.11 L223.01,73.05 L224.26,69.99 L225.47,66.92 L225.55,63.86 L224.50,60.80" stroke="#000" stroke-opacity="0.77" stroke-width="0.7" fill="none"/>
<path d="M165.62,183.30 L168.18,180.24 L170.50,177.18 L172.79,174.11 L175.20,171.05 L177.73,167.99 L180.28,164.93 L182.56,161.86 L184.57,158.80 L186.55,155.74 L188.63,152.68 L190.78,149.61 L192.72,146.55 L194.58,143.49 L196.30,140.43 L197.96,137.36 L199.44,134.30 L201.00,131.24 L202.65,128.18 L204.24,125.11 L205.57,122.05 L206.64,118.99 L207.74,115.92 L208.97,112.86 L210.29,109.80 L211.33,106.74 L212.23,103.67 L213.02,100.61 L213.82,97.55 L214.72,94.49 L215.79,91.42 L216.95,88.36 L218.01,85.30 L218.94,82.24 L219.83,79.17 L220.81,76.11 L221.93,73.05 L223.11,69.99 L224.20,66.92 L225.16,63.86 L226.50,60.80" stroke="#000" stroke-opacity="0.85" stroke-width="0.8" fill="none"/>
<path d="M155.33,183.30 L156.75,180.90 L158.62,178.49 L159.61,176.09 L160.70,173.68 L162.65,171.28 L164.32,168.87 L165.19,166.47 L166.49,164.06 L168.39,161.66 L169.69,159.25 L170.38,156.85 L171.77,154.44 L173.62,152.04 L174.65,149.63 L175.25,147.23 L176.68,144.82 L178.27,142.42 L178.99,140.01 L179.72,137.61 L181.23,135.20 L182.50,132.80 L182.93,130.39 L183.71,127.99 L185.26,125.58 L186.30,123.18 L186.53,120.77 L187.39,118.37 L188.80,115.96 L189.48,113.56 L189.75,111.15 L190.75,108.75 L191.94,106.34 L192.26,103.94 L192.50,101.53 L193.62,99.13 L194.65,96.72 L194.83,94.32 L195.26,91.91 L196.55,89.51 L197.10,87.10" stroke="#000" stroke-opacity="0.45" stroke-width="0.7" fill="none"/>
<path d="M154.83,183.30 L156.13,180.93 L157.93,178.55 L159.37,176.18 L160.39,173.80 L161.42,171.43 L162.86,169.05 L164.65,166.68 L166.33,164.31 L167.46,161.93 L168.27,159.56 L169.30,157.18 L170.79,154.81 L172.45,152.44 L173.80,150.06 L174.57,147.69 L175.26,145.31 L176.33,142.94 L177.80,140.56 L179.23,138.19 L180.17,135.82 L180.69,133.44 L181.37,131.07 L182.49,128.69 L183.86,126.32 L184.99,123.94 L185.55,121.57 L185.94,119.20 L186.65,116.82 L187.79,114.45 L188.97,112.07 L189.74,109.70 L190.00,107.33 L190.34,104.95 L191.12,102.58 L192.21,100.20 L193.11,97.83 L193.56,95.45 L193.79,93.08 L194.33,90.71 L195.44,88.33" stroke="#000" stroke-opacity="0.56" stroke-width="0.7" fill="none"/>
<path d="M155.08,183.30 L156.62,180.82 L158.41,178.34 L159.39,175.86 L160.57,173.39 L162.54,170.91 L164.25,168.43 L165.18,165.95 L166.43,163.47 L168.28,160.99 L169.75,158.51 L170.50,156.03 L171.69,153.56 L173.57,151.08 L174.85,148.60 L175.42,146.12 L176.53,143.64 L178.26,141.16 L179.39,138.68 L179.92,136.21 L180.97,133.73 L182.54,131.25 L183.43,128.77 L183.86,126.29 L185.00,123.81 L186.42,121.33 L187.07,118.85 L187.38,116.38 L188.45,113.90 L189.81,111.42 L190.32,108.94 L190.51,106.46 L191.52,103.98 L192.69,101.50 L193.04,99.03 L193.28,96.55 L194.36,94.07 L195.49,91.59 L195.83,89.11 L196.19,86.63 L197.35,84.15" stroke="#000" stroke-opacity="0.47" stroke-width="0.7" fill="none"/>
<path d="M155.08,183.30 L156.02,181.06 L157.73,178.82 L159.47,176.58 L160.27,174.34 L161.35,172.10 L163.27,169.86 L164.63,167.62 L165.35,165.38 L166.79,163.14 L168.53,160.90 L169.38,158.66 L170.11,156.42 L171.78,154.18 L173.25,151.94 L173.83,149.70 L174.76,147.45 L176.40,145.21 L177.34,142.97 L177.80,140.73 L179.12,138.49 L180.61,136.25 L181.06,134.01 L181.62,131.77 L183.07,129.53 L184.13,127.29 L184.42,125.05 L185.32,122.81 L186.68,120.57 L187.21,118.33 L187.45,116.09 L188.62,113.85 L189.76,111.61 L189.95,109.37 L190.37,107.13 L191.60,104.89 L192.24,102.65 L192.27,100.41 L193.08,98.17 L194.25,95.93 L194.49,93.69" stroke="#000" stroke-opacity="0.63" stroke-width="0.7" fill="none"/>
<path d="M155.02,183.30 L156.01,180.98 L157.71,178.65 L159.55,176.33 L160.52,174.01 L161.48,171.69 L163.29,169.36 L165.00,167.04 L165.87,164.72 L166.89,162.40 L168.64,160.07 L170.07,157.75 L170.74,155.43 L171.83,153.10 L173.63,150.78 L174.79,148.46 L175.28,146.14 L176.38,143.81 L178.03,141.49 L178.99,139.17 L179.50,136.85 L180.62,134.52 L182.09,132.20 L182.75,129.88 L183.18,127.55 L184.44,125.23 L185.80,122.91 L186.19,120.59 L186.57,118.26 L187.81,115.94 L188.94,113.62 L189.23,111.30 L189.68,108.97 L190.87,106.65 L191.72,104.33 L191.80,102.00 L192.34,99.68 L193.57,97.36 L194.25,95.04 L194.32,92.71 L195.30,90.39" stroke="#000" stroke-opacity="0.55" stroke-width="0.7" fill="none"/>
<path d="M158.90,183.30 L161.19,180.46 L162.56,177.61 L164.33,174.77 L166.86,171.93 L168.17,169.09 L170.01,166.24 L172.49,163.40 L173.55,160.56 L175.25,157.72 L177.50,154.87 L178.52,152.03 L180.23,149.19 L182.20,146.35 L182.97,143.50 L184.61,140.66 L186.52,137.82 L187.15,134.97 L188.64,132.13 L190.29,129.29 L190.83,126.45 L192.39,123.60 L193.78,120.76 L194.11,117.92 L195.53,115.08 L196.83,112.23 L197.12,109.39 L198.40,106.55 L199.43,103.71 L199.58,100.86 L200.91,98.02 L201.87,95.18 L202.04,92.33 L203.50,89.49 L204.46,86.65 L204.74,83.81 L206.24,80.96 L207.13,78.12 L207.45,75.28 L208.99,72.44 L209.65,69.59" stroke="#000" stroke-opacity="0.78" stroke-width="0.6" fill="none"/>
<path d="M157.13,183.30 L158.96,180.51 L161.05,177.71 L162.67,174.92 L163.99,172.12 L165.54,169.33 L167.58,166.54 L169.76,163.74 L171.39,160.95 L172.58,158.16 L173.79,155.36 L175.45,152.57 L177.42,149.77 L179.03,146.98 L180.15,144.19 L181.08,141.39 L182.34,138.60 L183.99,135.80 L185.54,133.01 L186.66,130.22 L187.42,127.42 L188.31,124.63 L189.57,121.84 L190.99,119.04 L192.13,116.25 L192.79,113.45 L193.37,110.66 L194.21,107.87 L195.42,105.07 L196.54,102.28 L197.18,99.48 L197.54,96.69 L198.15,93.90 L199.26,91.10 L200.56,88.31 L201.47,85.52 L201.96,82.72 L202.48,79.93 L203.46,77.13 L204.77,74.34 L205.48,71.55" stroke="#000" stroke-opacity="0.62" stroke-width="0.6" fill="none"/>
<path d="M156.00,183.30 L158.03,180.33 L159.44,177.36 L161.05,174.40 L163.09,171.43 L165.31,168.46 L167.26,165.49 L168.72,162.52 L169.93,159.56 L171.45,156.59 L173.37,153.62 L175.37,150.65 L176.86,147.68 L177.93,144.72 L178.97,141.75 L180.38,138.78 L182.09,135.81 L183.65,132.84 L184.82,129.88 L185.65,126.91 L186.56,123.94 L187.72,120.97 L189.15,118.00 L190.45,115.04 L191.33,112.07 L191.89,109.10 L192.50,106.13 L193.54,103.16 L194.80,100.20 L195.83,97.23 L196.43,94.26 L196.89,91.29 L197.66,88.32 L198.85,85.36 L200.17,82.39 L201.18,79.42 L201.78,76.45 L202.31,73.48 L203.19,70.52 L204.44,67.55 L205.38,64.58" stroke="#000" stroke-opacity="0.58" stroke-width="0.6" fill="none"/>
<path d="M160.46,183.30 L162.53,180.50 L163.96,177.69 L166.41,174.89 L168.58,172.09 L169.88,169.28 L171.94,166.48 L174.45,163.68 L175.72,160.88 L177.12,158.07 L179.46,155.27 L181.13,152.47 L182.20,149.66 L184.06,146.86 L185.92,144.06 L186.79,141.25 L188.23,138.45 L190.24,135.65 L191.18,132.84 L191.99,130.04 L193.82,127.24 L195.19,124.44 L195.67,121.63 L196.94,118.83 L198.48,116.03 L198.98,113.22 L199.82,110.42 L201.31,107.62 L201.96,104.81 L202.23,102.01 L203.53,99.21 L204.62,96.40 L204.81,93.60 L205.75,90.80 L207.24,87.99 L207.72,85.19 L208.28,82.39 L209.80,79.59 L210.70,76.78 L210.99,73.98 L212.27,71.18" stroke="#000" stroke-opacity="0.71" stroke-width="0.6" fill="none"/>
<path d="M160.38,183.30 L162.68,180.49 L164.58,177.69 L166.05,174.88 L167.76,172.08 L170.02,169.27 L172.38,166.46 L174.24,163.66 L175.50,160.85 L177.00,158.05 L179.05,155.24 L181.18,152.43 L182.76,149.63 L183.76,146.82 L185.04,144.02 L186.87,141.21 L188.75,138.41 L190.03,135.60 L190.81,132.79 L191.89,129.99 L193.50,127.18 L195.15,124.38 L196.15,121.57 L196.71,118.76 L197.57,115.96 L198.98,113.15 L200.40,110.35 L201.11,107.54 L201.46,104.73 L202.13,101.93 L203.33,99.12 L204.53,96.32 L205.20,93.51 L205.59,90.70 L206.36,87.90 L207.65,85.09 L208.93,82.29 L209.66,79.48 L210.10,76.67 L210.88,73.87 L212.15,71.06" stroke="#000" stroke-opacity="0.46" stroke-width="0.6" fill="none"/>
<path d="M162.76,183.30 L165.27,180.41 L166.75,177.53 L169.02,174.64 L171.67,171.76 L173.20,168.87 L175.27,165.99 L177.98,163.10 L179.37,160.22 L181.00,157.33 L183.54,154.45 L185.09,151.56 L186.41,148.68 L188.66,145.79 L190.12,142.91 L191.18,140.02 L193.37,137.14 L194.79,134.25 L195.51,131.37 L197.33,128.48 L198.91,125.60 L199.53,122.71 L200.95,119.83 L202.45,116.94 L202.88,114.06 L204.12,111.17 L205.61,108.29 L205.88,105.40 L206.68,102.52 L208.16,99.63 L208.54,96.75 L209.16,93.86 L210.72,90.98 L211.35,88.09 L211.89,85.21 L213.50,82.32 L214.31,79.44 L214.72,76.55 L216.25,73.67 L217.25,70.78 L217.96,67.90" stroke="#000" stroke-opacity="0.56" stroke-width="0.6" fill="none"/>
<path d="M156.33,183.30 L158.02,180.42 L159.49,177.54 L161.49,174.66 L163.71,171.78 L165.56,168.90 L166.92,166.02 L168.31,163.14 L170.07,160.26 L172.12,157.39 L173.82,154.51 L175.02,151.63 L176.12,148.75 L177.63,145.87 L179.47,142.99 L181.03,140.11 L182.05,137.23 L182.87,134.35 L184.14,131.47 L185.79,128.59 L187.20,125.71 L188.04,122.83 L188.61,119.95 L189.65,117.07 L191.10,114.19 L192.36,111.32 L192.99,108.44 L193.37,105.56 L194.17,102.68 L195.42,99.80 L196.54,96.92 L197.13,94.04 L197.52,91.16 L198.34,88.28 L199.64,85.40 L200.87,82.52 L201.58,79.64 L202.01,76.76 L202.78,73.88 L204.06,71.00 L204.94,68.12" stroke="#000" stroke-opacity="0.57" stroke-width="0.6" fill="none"/>
<path d="M157.60,183.30 L159.14,180.32 L161.53,177.34 L163.73,174.36 L165.17,171.39 L166.74,168.41 L169.07,165.43 L171.25,162.45 L172.54,159.47 L173.84,156.49 L175.89,153.51 L178.02,150.54 L179.18,147.56 L180.19,144.58 L181.95,141.60 L183.90,138.62 L185.04,135.64 L185.80,132.66 L187.27,129.69 L189.06,126.71 L190.15,123.73 L190.70,120.75 L191.87,117.77 L193.47,114.79 L194.46,111.81 L194.88,108.83 L195.76,105.86 L197.17,102.88 L198.05,99.90 L198.35,96.92 L199.14,93.94 L200.57,90.96 L201.62,87.98 L202.02,85.01 L202.79,82.03 L204.25,79.05 L205.39,76.07 L205.81,73.09 L206.50,70.11 L207.92,67.13 L208.75,64.16" stroke="#000" stroke-opacity="0.69" stroke-width="0.6" fill="none"/>
<path d="M155.16,183.30 L156.50,180.44 L158.25,177.58 L160.33,174.73 L162.33,171.87 L163.93,169.01 L165.23,166.15 L166.61,163.30 L168.25,160.44 L170.17,157.58 L171.94,154.72 L173.30,151.87 L174.33,149.01 L175.42,146.15 L176.93,143.29 L178.67,140.43 L180.19,137.58 L181.17,134.72 L181.91,131.86 L182.89,129.00 L184.29,126.15 L185.84,123.29 L186.95,120.43 L187.64,117.57 L188.22,114.71 L189.09,111.86 L190.31,109.00 L191.50,106.14 L192.37,103.28 L192.84,100.43 L193.27,97.57 L194.05,94.71 L195.21,91.85 L196.44,89.00 L197.29,86.14 L197.80,83.28 L198.33,80.42 L199.25,77.56 L200.50,74.71 L201.69,71.85 L202.18,68.99" stroke="#000" stroke-opacity="0.53" stroke-width="0.6" fill="none"/>
<path d="M163.02,183.30 L165.47,180.51 L167.12,177.72 L168.85,174.94 L171.17,172.15 L173.70,169.36 L175.74,166.57 L177.32,163.78 L178.94,160.99 L181.13,158.21 L183.34,155.42 L184.99,152.63 L186.28,149.84 L187.77,147.05 L189.77,144.27 L191.62,141.48 L192.86,138.69 L193.89,135.90 L195.28,133.11 L197.08,130.32 L198.55,127.54 L199.45,124.75 L200.26,121.96 L201.55,119.17 L203.09,116.38 L204.17,113.60 L204.76,110.81 L205.41,108.02 L206.58,105.23 L207.83,102.44 L208.51,99.66 L208.85,96.87 L209.57,94.08 L210.86,91.29 L212.10,88.50 L212.75,85.71 L213.20,82.93 L214.17,80.14 L215.57,77.35 L216.69,74.56 L217.22,71.77" stroke="#000" stroke-opacity="0.72" stroke-width="0.6" fill="none"/>
<path d="M155.34,183.30 L157.39,180.37 L158.60,177.44 L160.27,174.51 L162.56,171.59 L164.44,168.66 L165.67,165.73 L167.15,162.80 L169.21,159.87 L171.04,156.94 L172.15,154.02 L173.38,151.09 L175.22,148.16 L176.97,145.23 L177.97,142.30 L178.91,139.37 L180.57,136.45 L182.22,133.52 L183.15,130.59 L183.84,127.66 L185.21,124.73 L186.82,121.80 L187.70,118.87 L188.17,115.95 L189.22,113.02 L190.77,110.09 L191.62,107.16 L191.91,104.23 L192.65,101.30 L194.01,98.38 L194.99,95.45 L195.31,92.52 L195.97,89.59 L197.35,86.66 L198.53,83.73 L198.98,80.81 L199.54,77.88 L200.84,74.95 L202.13,72.02 L202.67,69.09 L203.52,66.16" stroke="#000" stroke-opacity="0.71" stroke-width="0.6" fill="none"/>
<path d="M162.42,183.30 L164.62,180.37 L166.37,177.44 L169.20,174.51 L171.03,171.58 L172.77,168.65 L175.60,165.72 L177.35,162.78 L178.86,159.85 L181.43,156.92 L182.99,153.99 L184.51,151.06 L186.90,148.13 L188.16,145.20 L189.43,142.27 L191.73,139.34 L192.95,136.41 L193.98,133.48 L196.04,130.55 L197.02,127.62 L198.07,124.68 L199.98,121.75 L200.70,118.82 L201.51,115.89 L203.31,112.96 L204.01,110.03 L204.60,107.10 L206.16,104.17 L206.60,101.24 L207.20,98.31 L208.76,95.38 L209.19,92.45 L209.89,89.52 L211.54,86.58 L212.05,83.65 L212.78,80.72 L214.42,77.79 L214.92,74.86 L215.67,71.93 L217.31,69.00 L217.89,66.07" stroke="#000" stroke-opacity="0.73" stroke-width="0.6" fill="none"/>
<path d="M159.65,183.30 L162.00,180.34 L163.39,177.37 L165.53,174.41 L168.10,171.44 L169.68,168.48 L171.33,165.51 L173.85,162.55 L175.68,159.58 L176.83,156.62 L178.87,153.65 L181.14,150.69 L182.20,147.72 L183.50,144.76 L185.66,141.80 L187.11,138.83 L187.99,135.87 L189.68,132.90 L191.38,129.94 L192.11,126.97 L193.31,124.01 L195.07,121.04 L195.94,118.08 L196.50,115.11 L198.05,112.15 L199.36,109.18 L199.60,106.22 L200.49,103.26 L201.96,100.29 L202.48,97.33 L202.91,94.36 L204.35,91.40 L205.45,88.43 L205.77,85.47 L206.88,82.50 L208.38,79.54 L208.88,76.57 L209.51,73.61 L211.06,70.64 L212.03,67.68 L212.72,64.72" stroke="#000" stroke-opacity="0.68" stroke-width="0.6" fill="none"/>
<path d="M158.47,183.30 L160.18,180.51 L162.56,177.71 L163.82,174.92 L165.55,172.12 L168.02,169.33 L169.45,166.53 L170.93,163.74 L173.23,160.94 L174.69,158.15 L175.78,155.35 L177.97,152.56 L179.67,149.76 L180.43,146.97 L182.22,144.17 L183.98,141.38 L184.73,138.58 L186.21,135.79 L187.96,132.99 L188.60,130.20 L189.70,127.40 L191.55,124.61 L192.26,121.81 L192.90,119.02 L194.56,116.22 L195.42,113.43 L195.88,110.63 L197.29,107.84 L198.21,105.04 L198.37,102.25 L199.55,99.46 L200.72,96.66 L200.88,93.87 L201.85,91.07 L203.28,88.28 L203.61,85.48 L204.37,82.69 L205.90,79.89 L206.42,77.10 L206.93,74.30 L208.19,71.51" stroke="#000" stroke-opacity="0.43" stroke-width="0.6" fill="none"/>
<path d="M158.49,183.30 L160.73,180.39 L162.73,177.48 L163.94,174.57 L165.73,171.66 L168.31,168.75 L170.37,165.84 L171.55,162.94 L173.05,160.03 L175.41,157.12 L177.33,154.21 L178.37,151.30 L179.66,148.39 L181.76,145.48 L183.52,142.57 L184.36,139.66 L185.50,136.75 L187.36,133.84 L188.97,130.93 L189.64,128.03 L190.50,125.12 L192.24,122.21 L193.70,119.30 L194.20,116.39 L194.80,113.48 L196.36,110.57 L197.72,107.66 L198.06,104.75 L198.40,101.84 L199.71,98.93 L201.08,96.02 L201.47,93.12 L201.82,90.21 L203.15,87.30 L204.65,84.39 L205.18,81.48 L205.51,78.57 L206.78,75.66 L208.31,72.75 L208.91,69.84 L209.67,66.93" stroke="#000" stroke-opacity="0.65" stroke-width="0.6" fill="none"/>
<path d="M160.48,183.30 L162.45,180.69 L163.74,178.08 L165.47,175.48 L167.74,172.87 L169.99,170.26 L171.70,167.65 L172.97,165.04 L174.35,162.43 L176.21,159.83 L178.35,157.22 L180.12,154.61 L181.32,152.00 L182.34,149.39 L183.72,146.79 L185.59,144.18 L187.37,141.57 L188.57,138.96 L189.37,136.35 L190.27,133.74 L191.76,131.14 L193.46,128.53 L194.73,125.92 L195.44,123.31 L195.94,120.70 L196.98,118.10 L198.46,115.49 L199.77,112.88 L200.49,110.27 L200.73,107.66 L201.30,105.06 L202.44,102.45 L203.71,99.84 L204.50,97.23 L204.78,94.62 L205.12,92.01 L206.11,89.41 L207.49,86.80 L208.62,84.19 L209.15,81.58 L209.80,78.97" stroke="#000" stroke-opacity="0.54" stroke-width="0.6" fill="none"/>
<path d="M161.94,183.30 L164.48,180.41 L166.14,177.51 L167.79,174.62 L169.87,171.72 L172.40,168.83 L174.91,165.93 L176.91,163.04 L178.30,160.15 L179.72,157.25 L181.60,154.36 L183.90,151.46 L185.99,148.57 L187.50,145.68 L188.61,142.78 L189.79,139.89 L191.45,136.99 L193.27,134.10 L194.99,131.20 L196.21,128.31 L197.06,125.42 L197.95,122.52 L199.16,119.63 L200.74,116.73 L202.18,113.84 L203.12,110.95 L203.56,108.05 L204.07,105.16 L205.09,102.26 L206.44,99.37 L207.61,96.47 L208.28,93.58 L208.68,90.69 L209.32,87.79 L210.47,84.90 L211.92,82.00 L213.15,79.11 L213.87,76.21 L214.31,73.32 L214.99,70.43 L216.43,67.53" stroke="#000" stroke-opacity="0.43" stroke-width="0.6" fill="none"/>
<path d="M159.41,183.30 L161.24,180.47 L163.70,177.65 L165.42,174.82 L166.70,172.00 L168.50,169.17 L170.97,166.35 L173.22,163.52 L174.48,160.69 L175.62,157.87 L177.49,155.04 L179.79,152.22 L181.50,149.39 L182.37,146.57 L183.48,143.74 L185.36,140.91 L187.35,138.09 L188.50,135.26 L189.12,132.44 L190.27,129.61 L192.09,126.79 L193.68,123.96 L194.32,121.13 L194.81,118.31 L196.03,115.48 L197.68,112.66 L198.77,109.83 L199.01,107.00 L199.49,104.18 L200.75,101.35 L202.10,98.53 L202.72,95.70 L202.92,92.88 L203.73,90.05 L205.22,87.22 L206.45,84.40 L206.91,81.57 L207.28,78.75 L208.39,75.92 L209.92,73.10 L210.46,70.27" stroke="#000" stroke-opacity="0.46" stroke-width="0.6" fill="none"/>
<path d="M161.73,183.30 L164.25,180.49 L165.99,177.68 L167.42,174.87 L169.40,172.06 L171.98,169.24 L174.33,166.43 L175.94,163.62 L177.17,160.81 L179.05,158.00 L181.43,155.19 L183.42,152.38 L184.65,149.57 L185.70,146.76 L187.45,143.95 L189.57,141.13 L191.19,138.32 L192.05,135.51 L192.95,132.70 L194.59,129.89 L196.45,127.08 L197.69,124.27 L198.22,121.46 L199.00,118.65 L200.51,115.83 L202.07,113.02 L202.95,110.21 L203.19,107.40 L203.87,104.59 L205.22,101.78 L206.48,98.97 L207.01,96.16 L207.25,93.35 L208.11,90.54 L209.60,87.72 L210.85,84.91 L211.36,82.10 L211.73,79.29 L212.76,76.48 L214.28,73.67 L214.93,70.86" stroke="#000" stroke-opacity="0.41" stroke-width="0.6" fill="none"/>
<path d="M157.96,183.30 L159.93,180.56 L161.06,177.82 L163.10,175.08 L165.52,172.34 L167.01,169.60 L168.12,166.86 L170.16,164.12 L172.42,161.38 L173.72,158.64 L174.64,155.90 L176.48,153.16 L178.70,150.42 L179.82,147.68 L180.52,144.95 L182.15,142.21 L184.17,139.47 L185.26,136.73 L185.78,133.99 L187.21,131.25 L189.04,128.51 L189.94,125.77 L190.43,123.03 L191.67,120.29 L193.30,117.55 L194.02,114.81 L194.33,112.07 L195.52,109.33 L196.97,106.59 L197.50,103.85 L197.63,101.11 L198.67,98.37 L200.12,95.63 L200.66,92.89 L200.84,90.15 L201.96,87.41 L203.48,84.67 L204.09,81.93 L204.29,79.19 L205.40,76.45 L206.47,73.71" stroke="#000" stroke-opacity="0.61" stroke-width="0.6" fill="none"/>
<path d="M165.11,183.30 L166.73,180.65 L169.09,178.01 L171.81,175.36 L173.57,172.72 L174.99,170.07 L177.39,167.42 L180.07,164.78 L181.63,162.13 L182.84,159.49 L185.04,156.84 L187.44,154.20 L188.83,151.55 L189.94,148.90 L191.92,146.26 L194.01,143.61 L195.08,140.97 L196.09,138.32 L198.01,135.67 L199.81,133.03 L200.58,130.38 L201.38,127.74 L203.21,125.09 L204.86,122.44 L205.33,119.80 L205.94,117.15 L207.56,114.51 L208.99,111.86 L209.36,109.22 L209.77,106.57 L211.18,103.92 L212.32,101.28 L212.48,98.63 L212.95,95.99 L214.39,93.34 L215.52,90.69 L215.75,88.05 L216.38,85.40 L217.94,82.76 L219.05,80.11 L219.49,77.46" stroke="#000" stroke-opacity="0.39" stroke-width="0.6" fill="none"/>
<path d="M164.33,183.30 L166.57,180.54 L168.92,177.79 L170.20,175.03 L173.03,172.28 L175.15,169.52 L176.52,166.77 L179.45,164.01 L181.13,161.26 L182.39,158.50 L185.13,155.75 L186.56,152.99 L188.01,150.24 L190.47,147.48 L191.44,144.73 L192.83,141.97 L195.23,139.22 L196.02,136.46 L197.38,133.71 L199.41,130.95 L199.89,128.20 L201.47,125.44 L203.28,122.69 L203.46,119.93 L204.99,117.18 L206.41,114.42 L206.61,111.67 L208.22,108.91 L209.18,106.16 L209.20,103.40 L210.79,100.65 L211.53,97.89 L211.68,95.13 L213.35,92.38 L213.96,89.62 L214.37,86.87 L216.17,84.11 L216.59,81.36 L217.19,78.60 L218.97,75.85 L219.40,73.09" stroke="#000" stroke-opacity="0.49" stroke-width="0.6" fill="none"/>
<path d="M160.51,183.30 L162.02,180.61 L164.57,177.93 L166.53,175.24 L167.73,172.56 L169.38,169.87 L171.86,167.19 L174.03,164.50 L175.18,161.82 L176.41,159.13 L178.55,156.45 L180.70,153.76 L181.93,151.08 L182.85,148.39 L184.58,145.71 L186.62,143.02 L187.82,140.34 L188.58,137.65 L189.95,134.97 L191.83,132.28 L193.05,129.60 L193.58,126.91 L194.65,124.23 L196.36,121.54 L197.59,118.86 L197.97,116.17 L198.62,113.49 L200.16,110.80 L201.44,108.12 L201.75,105.43 L202.02,102.75 L203.19,100.06 L204.56,97.38 L205.05,94.69 L205.21,92.01 L206.26,89.32 L207.79,86.63 L208.58,83.95 L208.77,81.26 L209.59,78.58 L210.85,75.89" stroke="#000" stroke-opacity="0.64" stroke-width="0.6" fill="none"/>
<path d="M160.55,183.30 L162.92,180.41 L164.14,177.53 L166.50,174.64 L169.07,171.75 L170.35,168.86 L172.22,165.98 L174.98,163.09 L176.38,160.20 L177.58,157.32 L180.08,154.43 L181.96,151.54 L182.80,148.66 L184.71,145.77 L186.79,142.88 L187.58,139.99 L189.01,137.11 L191.12,134.22 L192.02,131.33 L192.77,128.45 L194.80,125.56 L196.12,122.67 L196.39,119.78 L197.87,116.90 L199.47,114.01 L199.79,111.12 L200.66,108.24 L202.29,105.35 L202.70,102.46 L203.03,99.58 L204.62,96.69 L205.52,93.80 L205.61,90.91 L206.99,88.03 L208.42,85.14 L208.60,82.25 L209.50,79.37 L211.21,76.48 L211.68,73.59 L212.12,70.70 L213.53,67.82" stroke="#000" stroke-opacity="0.37" stroke-width="0.6" fill="none"/>
<path d="M159.83,183.30 L162.25,180.40 L163.83,177.49 L165.32,174.59 L168.14,171.69 L169.82,168.79 L171.21,165.88 L173.96,162.98 L175.54,160.08 L176.62,157.17 L179.14,154.27 L180.85,151.37 L181.71,148.46 L183.94,145.56 L185.53,142.66 L186.24,139.76 L188.39,136.85 L189.89,133.95 L190.34,131.05 L192.17,128.14 L193.79,125.24 L194.14,122.34 L195.65,119.44 L197.15,116.53 L197.36,113.63 L198.76,110.73 L200.20,107.82 L200.22,104.92 L201.27,102.02 L202.76,99.12 L202.81,96.21 L203.74,93.31 L205.35,90.41 L205.54,87.50 L206.43,84.60 L208.14,81.70 L208.40,78.79 L209.16,75.89 L210.91,72.99 L211.26,70.09 L212.29,67.18" stroke="#000" stroke-opacity="0.41" stroke-width="0.6" fill="none"/>
<path d="M163.06,183.30 L165.06,180.45 L166.82,177.60 L169.53,174.76 L172.02,171.91 L173.55,169.06 L175.25,166.21 L177.90,163.37 L180.18,160.52 L181.50,157.67 L182.90,154.82 L185.29,151.98 L187.51,149.13 L188.59,146.28 L189.69,143.43 L191.76,140.58 L193.86,137.74 L194.81,134.89 L195.62,132.04 L197.40,129.19 L199.29,126.35 L200.19,123.50 L200.73,120.65 L202.22,117.80 L203.88,114.95 L204.59,112.11 L205.01,109.26 L206.22,106.41 L207.67,103.56 L208.18,100.72 L208.40,97.87 L209.55,95.02 L211.03,92.17 L211.68,89.33 L211.98,86.48 L213.18,83.63 L214.77,80.78 L215.47,77.93 L215.75,75.09 L216.90,72.24 L218.07,69.39" stroke="#000" stroke-opacity="0.45" stroke-width="0.6" fill="none"/>
<path d="M163,123.3 L198,122.6" stroke="#111" stroke-width="0.9" fill="none" stroke-opacity="0.8"/>
<path d="M130.3,183.6 H153.5 M155.5,183.6 H165.5" stroke="#111" stroke-width="1.5" fill="none"/>
<path d="M177,61.2 H201.5" stroke="#1a1a1a" stroke-width="1.4" fill="none"/>
<path d="M219.50,82.00 L224.00,71.00 L228.00,63.00 L231.00,61.00 L233.50,60.20 L234.50,61.50 L236.00,63.80 L238.00,64.20 L242.00,64.20 L244.60,65.50 L246.60,67.50 L249.10,71.50 L252.10,76.00" stroke="#333" stroke-width="1.1" fill="none"/>
<path d="M370.4,9.6 V250.6 H685" stroke="#3a3a3a" stroke-width="1.6" fill="none"/>
<path d="M370.5,9.8 H373.5" stroke="#3a3a3a" stroke-width="1.6" fill="none"/>
<path d="M370.5,37 H375" stroke="#3a3a3a" stroke-width="1.6" fill="none"/>
<path d="M370.5,90.5 H375" stroke="#3a3a3a" stroke-width="1.6" fill="none"/>
<path d="M370.5,143.6 H375" stroke="#3a3a3a" stroke-width="1.6" fill="none"/>
<path d="M370.5,197 H375" stroke="#3a3a3a" stroke-width="1.6" fill="none"/>
<path d="M370.5,64 H373.5" stroke="#3a3a3a" stroke-width="1.6" fill="none"/>
<path d="M370.5,117.5 H373.5" stroke="#3a3a3a" stroke-width="1.6" fill="none"/>
<path d="M370.5,171 H373.5" stroke="#3a3a3a" stroke-width="1.6" fill="none"/>
<path d="M370.5,223.6 H373.5" stroke="#3a3a3a" stroke-width="1.6" fill="none"/>
<path d="M444.4,250.6 V245" stroke="#3a3a3a" stroke-width="1.6" fill="none"/>
<path d="M518,250.6 V245" stroke="#3a3a3a" stroke-width="1.6" fill="none"/>
<path d="M592.4,250.6 V245" stroke="#3a3a3a" stroke-width="1.6" fill="none"/>
<path d="M666.2,250.6 V245" stroke="#3a3a3a" stroke-width="1.6" fill="none"/>
<path d="M407,250.6 V247.2" stroke="#3a3a3a" stroke-width="1.6" fill="none"/>
<path d="M481,250.6 V247.2" stroke="#3a3a3a" stroke-width="1.6" fill="none"/>
<path d="M555.2,250.6 V247.2" stroke="#3a3a3a" stroke-width="1.6" fill="none"/>
<path d="M629.6,250.6 V247.2" stroke="#3a3a3a" stroke-width="1.6" fill="none"/>
<path d="M370.80,250.30 C372.03,250.18 375.27,249.98 378.20,249.60 C381.13,249.22 385.00,248.68 388.40,248.00 C391.80,247.32 395.18,246.42 398.60,245.50 C402.02,244.58 405.48,243.45 408.90,242.50 C412.32,241.55 415.70,240.62 419.10,239.80 C422.50,238.98 427.22,238.03 429.30,237.60 C431.38,237.17 431.22,237.27 431.60,237.20 L434.5,238.9 L437.4,237.6" stroke="#151515" stroke-width="1" fill="none"/>
<path d="M437.40,237.60 C438.23,237.30 440.53,236.50 442.40,235.80 C444.27,235.10 446.42,234.33 448.60,233.40 C450.78,232.47 453.27,231.23 455.50,230.20 C457.73,229.17 459.83,228.32 462.00,227.20 C464.17,226.08 466.42,224.90 468.50,223.50 C470.58,222.10 473.20,219.78 474.50,218.80 C475.80,217.82 475.72,217.97 476.30,217.60 C476.88,217.23 476.53,217.73 478.00,216.60 C479.47,215.47 483.00,212.73 485.10,210.80 C487.20,208.87 486.42,210.13 490.60,205.00 C494.78,199.87 503.32,189.17 510.20,180.00 C517.08,170.83 525.45,160.00 531.90,150.00 C538.35,140.00 543.57,130.00 548.90,120.00 C554.23,110.00 559.38,99.17 563.90,90.00 C568.42,80.83 573.27,70.92 576.00,65.00 C578.73,59.08 579.58,56.25 580.30,54.50 L586.7,41.2 L590.5,37.6 L597.6,32.6 L609.7,29.8" stroke="#151515" stroke-width="1" fill="none"/>
<path d="M609.7,29.8 L609.7,52 L607,65" stroke="#151515" stroke-width="1" fill="none"/>
<path d="M443.00,247.30 C443.23,246.75 443.46,245.22 444.40,244.00 C445.34,242.78 446.87,241.50 448.64,240.00 C450.40,238.50 452.82,236.67 455.00,235.00 C457.18,233.33 459.38,231.67 461.73,230.00 C464.08,228.33 466.71,226.67 469.11,225.00 C471.51,223.33 473.17,222.17 476.11,220.00 C479.05,217.83 483.41,214.50 486.77,212.00 C490.13,209.50 493.58,207.83 496.30,205.00 C499.02,202.17 500.27,199.17 503.10,195.00 C505.93,190.83 509.80,185.00 513.30,180.00 C516.80,175.00 520.50,170.00 524.10,165.00 C527.70,160.00 531.81,155.00 534.90,150.00 C537.99,145.00 540.07,140.00 542.65,135.00 C545.23,130.00 547.81,125.00 550.40,120.00 C552.99,115.00 555.60,110.00 558.20,105.00 C560.80,100.00 563.83,94.67 566.00,90.00 C568.17,85.33 569.53,81.17 571.20,77.00 C572.87,72.83 574.45,68.33 576.00,65.00 C577.55,61.67 579.75,58.33 580.50,57.00" stroke="#222" stroke-width="0.85" fill="none"/>
<path d="M444.60,247.36 C445.28,246.80 447.14,245.23 448.69,244.00 C450.24,242.77 451.96,241.50 453.91,240.00 C455.86,238.50 458.19,236.67 460.38,235.00 C462.57,233.33 464.76,231.67 467.05,230.00 C469.33,228.33 471.83,226.67 474.11,225.00 C476.39,223.33 477.94,222.17 480.72,220.00 C483.50,217.83 487.62,214.50 490.79,212.00 C493.96,209.50 497.04,207.83 499.72,205.00 C502.40,202.17 504.08,199.17 506.84,195.00 C509.60,190.83 513.18,185.00 516.31,180.00 C519.44,175.00 522.49,170.00 525.61,165.00 C528.73,160.00 532.16,155.00 535.02,150.00 C537.88,145.00 540.17,140.00 542.75,135.00 C545.33,130.00 547.90,125.00 550.49,120.00 C553.07,115.00 555.67,110.00 558.26,105.00 C560.86,100.00 563.88,94.67 566.04,90.00 C568.20,85.33 569.56,81.17 571.23,77.00 C572.89,72.83 574.47,68.33 576.01,65.00 C577.56,61.67 579.75,58.33 580.50,57.00" stroke="#222" stroke-width="0.85" fill="none"/>
<path d="M445.88,247.41 C446.92,246.84 450.08,245.23 452.12,244.00 C454.16,242.77 456.03,241.50 458.13,240.00 C460.22,238.50 462.50,236.67 464.69,235.00 C466.89,233.33 469.06,231.67 471.30,230.00 C473.53,228.33 475.92,226.67 478.10,225.00 C480.29,223.33 481.76,222.17 484.41,220.00 C487.06,217.83 491.00,214.50 494.00,212.00 C497.01,209.50 499.82,207.83 502.46,205.00 C505.09,202.17 506.94,199.17 509.83,195.00 C512.72,190.83 516.28,185.00 519.79,180.00 C523.30,175.00 527.48,170.00 530.89,165.00 C534.29,160.00 537.48,155.00 540.21,150.00 C542.94,145.00 544.91,140.00 547.26,135.00 C549.61,130.00 552.02,125.00 554.32,120.00 C556.61,115.00 558.81,110.00 561.06,105.00 C563.30,100.00 565.91,94.67 567.80,90.00 C569.69,85.33 570.94,81.17 572.41,77.00 C573.89,72.83 575.33,68.33 576.67,65.00 C578.02,61.67 579.86,58.33 580.50,57.00" stroke="#222" stroke-width="0.85" fill="none"/>
<path d="M447.00,247.45 C448.35,246.88 452.65,245.24 455.12,244.00 C457.59,242.76 459.60,241.50 461.82,240.00 C464.04,238.50 466.26,236.67 468.46,235.00 C470.66,233.33 472.83,231.67 475.02,230.00 C477.21,228.33 479.49,226.67 481.60,225.00 C483.70,223.33 485.10,222.17 487.64,220.00 C490.18,217.83 493.95,214.50 496.82,212.00 C499.69,209.50 502.24,207.83 504.85,205.00 C507.46,202.17 509.61,199.17 512.45,195.00 C515.29,190.83 518.65,185.00 521.90,180.00 C525.15,175.00 528.90,170.00 531.97,165.00 C535.04,160.00 537.76,155.00 540.33,150.00 C542.89,145.00 545.02,140.00 547.37,135.00 C549.71,130.00 552.11,125.00 554.40,120.00 C556.69,115.00 558.88,110.00 561.12,105.00 C563.36,100.00 565.95,94.67 567.84,90.00 C569.73,85.33 570.97,81.17 572.44,77.00 C573.92,72.83 575.35,68.33 576.69,65.00 C578.03,61.67 579.87,58.33 580.50,57.00" stroke="#222" stroke-width="0.85" fill="none"/>
<path d="M447.96,247.49 C449.58,246.91 454.86,245.25 457.70,244.00 C460.53,242.75 462.65,241.50 464.98,240.00 C467.31,238.50 469.48,236.67 471.69,235.00 C473.89,233.33 476.06,231.67 478.21,230.00 C480.36,228.33 482.56,226.67 484.59,225.00 C486.63,223.33 487.97,222.17 490.41,220.00 C492.85,217.83 496.48,214.50 499.23,212.00 C501.98,209.50 504.32,207.83 506.90,205.00 C509.48,202.17 511.89,199.17 514.69,195.00 C517.50,190.83 520.68,185.00 523.72,180.00 C526.75,175.00 530.13,170.00 532.92,165.00 C535.70,160.00 538.02,155.00 540.45,150.00 C542.87,145.00 545.13,140.00 547.47,135.00 C549.81,130.00 552.20,125.00 554.49,120.00 C556.78,115.00 558.95,110.00 561.18,105.00 C563.42,100.00 566.00,94.67 567.88,90.00 C569.76,85.33 571.00,81.17 572.47,77.00 C573.94,72.83 575.37,68.33 576.71,65.00 C578.04,61.67 579.87,58.33 580.50,57.00" stroke="#222" stroke-width="0.85" fill="none"/>
<path d="M448.92,247.52 C450.81,246.94 457.07,245.25 460.27,244.00 C463.47,242.75 465.70,241.50 468.15,240.00 C470.59,238.50 472.71,236.67 474.92,235.00 C477.13,233.33 479.28,231.67 481.39,230.00 C483.51,228.33 485.63,226.67 487.59,225.00 C489.55,223.33 490.83,222.17 493.17,220.00 C495.51,217.83 499.01,214.50 501.64,212.00 C504.27,209.50 506.40,207.83 508.95,205.00 C511.50,202.17 513.96,199.17 516.94,195.00 C519.91,190.83 523.18,185.00 526.80,180.00 C530.42,175.00 535.37,170.00 538.67,165.00 C541.96,160.00 544.23,155.00 546.58,150.00 C548.94,145.00 550.73,140.00 552.80,135.00 C554.87,130.00 557.06,125.00 559.01,120.00 C560.96,115.00 562.66,110.00 564.49,105.00 C566.31,100.00 568.40,94.67 569.96,90.00 C571.52,85.33 572.62,81.17 573.87,77.00 C575.13,72.83 576.38,68.33 577.49,65.00 C578.59,61.67 580.00,58.33 580.50,57.00" stroke="#222" stroke-width="0.85" fill="none"/>
<path d="M449.88,247.56 C452.04,246.97 459.27,245.26 462.84,244.00 C466.41,242.74 468.76,241.50 471.31,240.00 C473.86,238.50 475.94,236.67 478.15,235.00 C480.36,233.33 482.51,231.67 484.58,230.00 C486.66,228.33 488.69,226.67 490.59,225.00 C492.48,223.33 493.70,222.17 495.94,220.00 C498.18,217.83 501.54,214.50 504.05,212.00 C506.56,209.50 508.48,207.83 511.01,205.00 C513.53,202.17 516.25,199.17 519.18,195.00 C522.12,190.83 525.21,185.00 528.61,180.00 C532.02,175.00 536.60,170.00 539.61,165.00 C542.62,160.00 544.49,155.00 546.70,150.00 C548.92,145.00 550.83,140.00 552.90,135.00 C554.97,130.00 557.16,125.00 559.10,120.00 C561.04,115.00 562.73,110.00 564.55,105.00 C566.37,100.00 568.44,94.67 570.00,90.00 C571.56,85.33 572.65,81.17 573.90,77.00 C575.15,72.83 576.40,68.33 577.50,65.00 C578.60,61.67 580.00,58.33 580.50,57.00" stroke="#222" stroke-width="0.85" fill="none"/>
<path d="M451.00,247.60 C453.47,247.00 461.85,245.27 465.85,244.00 C469.85,242.73 472.32,241.50 475.00,240.00 C477.68,238.50 479.70,236.67 481.92,235.00 C484.13,233.33 486.28,231.67 488.30,230.00 C490.33,228.33 492.27,226.67 494.08,225.00 C495.89,223.33 497.04,222.17 499.17,220.00 C501.30,217.83 504.49,214.50 506.87,212.00 C509.24,209.50 510.91,207.83 513.40,205.00 C515.89,202.17 518.92,199.17 521.80,195.00 C524.68,190.83 527.57,185.00 530.70,180.00 C533.83,175.00 537.93,170.00 540.60,165.00 C543.27,160.00 544.65,155.00 546.70,150.00 C548.75,145.00 550.83,140.00 552.90,135.00 C554.97,130.00 557.16,125.00 559.10,120.00 C561.04,115.00 562.73,110.00 564.55,105.00 C566.37,100.00 568.44,94.67 570.00,90.00 C571.56,85.33 572.65,81.17 573.90,77.00 C575.15,72.83 576.40,68.33 577.50,65.00 C578.60,61.67 580.00,58.33 580.50,57.00" stroke="#222" stroke-width="0.85" fill="none"/>
<path d="M432.5,247.8 H447" stroke="#151515" stroke-width="1" fill="none"/>
<path d="M479.50,246.90 C480.17,246.52 482.08,245.47 483.50,244.60 C484.92,243.73 485.73,243.17 488.00,241.70 C490.27,240.23 494.08,237.83 497.10,235.80 C500.12,233.77 503.85,231.30 506.10,229.50 C508.35,227.70 509.03,226.58 510.60,225.00 C512.17,223.42 512.55,223.33 515.50,220.00 C518.45,216.67 524.83,209.17 528.30,205.00 C531.77,200.83 533.18,199.17 536.30,195.00 C539.42,190.83 543.75,185.00 547.00,180.00 C550.25,175.00 552.87,170.00 555.80,165.00 C558.73,160.00 561.65,155.00 564.60,150.00 C567.55,145.00 570.75,140.00 573.50,135.00 C576.25,130.00 578.60,125.00 581.10,120.00 C583.60,115.00 586.25,110.00 588.50,105.00 C590.75,100.00 592.52,94.67 594.60,90.00 C596.68,85.33 598.93,81.17 601.00,77.00 C603.07,72.83 606.00,67.00 607.00,65.00" stroke="#151515" stroke-width="1" fill="none"/>
<path d="M483.00,247.30 C483.75,246.97 485.90,246.08 487.50,245.30 C489.10,244.52 490.25,243.88 492.60,242.60 C494.95,241.32 498.60,239.48 501.60,237.60 C504.60,235.72 507.90,233.40 510.60,231.30 C513.30,229.20 515.38,227.05 517.80,225.00 C520.22,222.95 521.67,222.33 525.10,219.00 C528.53,215.67 534.90,209.00 538.40,205.00 C541.90,201.00 543.13,199.17 546.10,195.00 C549.07,190.83 553.03,185.00 556.20,180.00 C559.37,175.00 562.30,170.00 565.10,165.00 C567.90,160.00 570.52,155.00 573.00,150.00 C575.48,145.00 577.72,140.00 580.00,135.00 C582.28,130.00 584.62,125.00 586.70,120.00 C588.78,115.00 590.77,110.00 592.50,105.00 C594.23,100.00 595.43,94.67 597.10,90.00 C598.77,85.33 600.85,81.17 602.50,77.00 C604.15,72.83 606.25,67.00 607.00,65.00 L611.5,57 L614.4,52 L616.7,46.7 L618.5,39.7" stroke="#151515" stroke-width="1" fill="none"/>
<path d="M472.5,247.8 H483" stroke="#151515" stroke-width="1" fill="none"/>
<path d="M618.50,39.70 L624.30,43.50 L630.20,48.20 L634.90,54.00 L638.40,55.20 L640.20,58.70 L641.20,64.50 L643.00,71.50 L646.10,78.60" stroke="#151515" stroke-width="1" fill="none"/>
<path d="M646.10,78.60 C645.78,79.95 644.90,84.18 644.20,86.70 C643.50,89.22 642.68,91.17 641.90,93.70 C641.12,96.23 640.20,99.20 639.50,101.90 C638.80,104.60 638.23,107.72 637.70,109.90 C637.17,112.08 636.83,113.32 636.30,115.00 C635.77,116.68 635.30,117.50 634.50,120.00 C633.70,122.50 632.67,126.83 631.50,130.00 C630.33,133.17 629.17,135.67 627.50,139.00 C625.83,142.33 623.92,145.67 621.50,150.00 C619.08,154.33 616.15,160.00 613.00,165.00 C609.85,170.00 606.08,175.00 602.60,180.00 C599.12,185.00 595.92,190.00 592.10,195.00 C588.28,200.00 583.38,205.83 579.70,210.00 C576.02,214.17 573.28,217.00 570.00,220.00 C566.72,223.00 563.50,225.50 560.00,228.00 C556.50,230.50 552.67,232.83 549.00,235.00 C545.33,237.17 541.50,239.28 538.00,241.00 C534.50,242.72 530.83,244.25 528.00,245.30 C525.17,246.35 522.17,246.97 521.00,247.30" stroke="#151515" stroke-width="1" fill="none"/>
<path d="M518.00,247.40 C519.67,246.75 524.58,245.57 528.00,243.50 C531.42,241.43 534.83,237.58 538.50,235.00 C542.17,232.42 546.30,230.50 550.00,228.00 C553.70,225.50 557.40,223.00 560.70,220.00 C564.00,217.00 565.88,214.17 569.80,210.00 C573.72,205.83 579.90,200.00 584.20,195.00 C588.50,190.00 591.48,185.00 595.60,180.00 C599.72,175.00 605.07,170.00 608.90,165.00 C612.73,160.00 616.00,153.83 618.60,150.00 C621.20,146.17 622.60,144.32 624.50,142.00 C626.40,139.68 627.97,138.42 630.00,136.10 C632.03,133.78 634.47,130.78 636.70,128.10 C638.93,125.42 641.85,121.78 643.40,120.00 C644.95,118.22 645.12,117.97 646.00,117.40 C646.88,116.83 647.80,117.27 648.70,116.60 C649.60,115.93 650.28,114.25 651.40,113.40 C652.52,112.55 653.85,111.73 655.40,111.50 C656.95,111.27 659.58,111.68 660.70,112.00 C661.82,112.32 661.87,113.17 662.10,113.40" stroke="#151515" stroke-width="1" fill="none"/>
<path d="M662.10,113.40 C662.55,114.73 663.92,117.83 664.80,121.40 C665.68,124.97 666.60,130.35 667.40,134.80 C668.20,139.25 669.07,143.65 669.60,148.10 C670.13,152.55 670.30,157.27 670.60,161.50 C670.90,165.73 671.27,171.50 671.40,173.50" stroke="#151515" stroke-width="1" fill="none"/>
<path d="M511.7,247.8 H521" stroke="#151515" stroke-width="1" fill="none"/>
<path d="M567.5,155.2 L616.5,213.6" stroke="#e8262b" stroke-width="0.9" stroke-opacity="0.75" fill="none"/>
<path d="M582.7,203.2 L605,215.6" stroke="#e8262b" stroke-width="0.9" stroke-opacity="0.75" fill="none"/>
<path d="M619.9,216.9 L613.6,212.0 L616.2,209.8Z" fill="#e8262b"/>
<path d="M609.1,217.8 L602.3,215.7 L604.1,212.7Z" fill="#e8262b"/>
<text class="t" x="13.6" y="266.8" font-size="15" font-style="italic" fill="#2a2228" stroke="#2a2228" stroke-width="0.3">O</text>
<text class="t lb" x="180.9" y="272" font-size="15"><tspan font-style="italic">ε</tspan> /%</text>
<text class="t lb" x="495.9" y="272" font-size="16"><tspan font-style="italic">ε</tspan> /%</text>
<text class="t lb" transform="translate(12.1,137.6) rotate(-90)" font-size="15.2"><tspan font-style="italic">σ</tspan> /MPa</text>
<text class="t lb" transform="translate(358.6,148.3) rotate(-90)" font-size="15.8"><tspan font-style="italic">σ</tspan> /MPa</text>
<text class="t" x="117.2" y="293.2" font-size="19.85">(a) constant amplitude</text>
<text class="t" x="442.3" y="293.4" font-size="19.7">(b) variable amplitude</text>
<text class="t" x="585" y="232.8" font-size="15.3">Hysteretic loop</text>
</svg>
</body></html>
